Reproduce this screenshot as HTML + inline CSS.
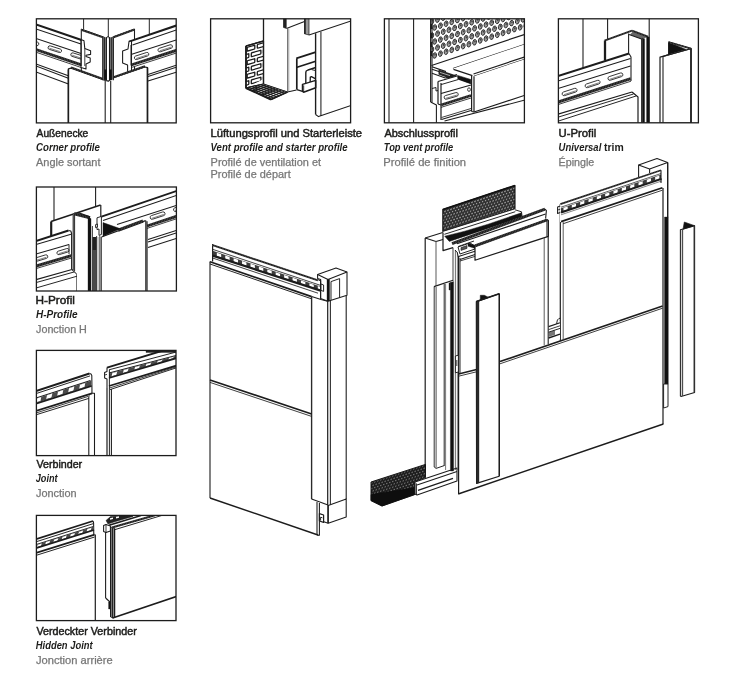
<!DOCTYPE html>
<html><head><meta charset="utf-8"><title>Profile</title>
<style>
html,body{margin:0;padding:0;background:#fff;}
body{width:750px;height:680px;overflow:hidden;font-family:"Liberation Sans",sans-serif;}
svg{display:block;will-change:transform;}
text{font-family:"Liberation Sans",sans-serif;}
</style></head><body>
<svg width="750" height="680" viewBox="0 0 750 680" stroke-linecap="butt">
<rect width="750" height="680" fill="#fff"/>
<clipPath id="c1"><rect x="36.4" y="18.8" width="139.79999999999998" height="104.10000000000001"/></clipPath><g clip-path="url(#c1)">
<line x1="83.6" y1="18" x2="83.6" y2="29.5" stroke="#1c1c1c" stroke-width="0.96" />
<line x1="108.3" y1="18" x2="108.3" y2="37" stroke="#1c1c1c" stroke-width="0.96" />
<line x1="149.3" y1="18" x2="149.3" y2="35" stroke="#1c1c1c" stroke-width="0.96" />
<line x1="36" y1="64" x2="69" y2="76" stroke="#1c1c1c" stroke-width="1.08" />
<line x1="36" y1="66" x2="69" y2="78.5" stroke="#1c1c1c" stroke-width="1.08" />
<line x1="36" y1="72" x2="68.5" y2="84" stroke="#1c1c1c" stroke-width="1.08" />
<line x1="148" y1="74.5" x2="177" y2="65" stroke="#1c1c1c" stroke-width="1.08" />
<line x1="148" y1="76.5" x2="177" y2="67" stroke="#1c1c1c" stroke-width="1.08" />
<line x1="148" y1="81" x2="177" y2="72" stroke="#1c1c1c" stroke-width="1.08" />
<polygon points="81.3,29.3 104,37.3 104,80 81.3,72" fill="#fff" stroke="#1c1c1c" stroke-width="1.08" stroke-linejoin="round" />
<line x1="81.3" y1="29.7" x2="103" y2="37.4" stroke="#1c1c1c" stroke-width="2.04" />
<line x1="81.3" y1="29.7" x2="103" y2="37.4" stroke="#fff" stroke-width="2.04" stroke-dasharray="0.45 1.2" opacity="0.28"/>
<polygon points="112.6,37.3 134.5,29.2 134.5,70 112.6,78" fill="#fff" stroke="#1c1c1c" stroke-width="1.08" stroke-linejoin="round" />
<line x1="113.4" y1="37.3" x2="134.5" y2="29.5" stroke="#1c1c1c" stroke-width="2.04" />
<line x1="113.4" y1="37.3" x2="134.5" y2="29.5" stroke="#fff" stroke-width="2.04" stroke-dasharray="0.45 1.2" opacity="0.28"/>
<polygon points="36,24 81,39.5 82,67.8 36,52" fill="#fff" stroke="none" stroke-width="1.08" stroke-linejoin="round" />
<line x1="36" y1="24.4" x2="81.5" y2="40" stroke="#1c1c1c" stroke-width="2.04" />
<line x1="36" y1="29" x2="81" y2="44" stroke="#1c1c1c" stroke-width="1.08" />
<line x1="36" y1="38.5" x2="81" y2="53.5" stroke="#1c1c1c" stroke-width="1.08" />
<line x1="36" y1="49.6" x2="82" y2="65.2" stroke="#1c1c1c" stroke-width="2.88" />
<line x1="36" y1="49.6" x2="82" y2="65.2" stroke="#fff" stroke-width="2.88" stroke-dasharray="0.45 1.2" opacity="0.28"/>
<line x1="36" y1="52.2" x2="82" y2="67.8" stroke="#1c1c1c" stroke-width="0.84" />
<rect x="47.8" y="47.400000000000006" width="14" height="3.6" rx="1.8" fill="#fff" stroke="#1c1c1c" stroke-width="0.8" transform="rotate(17.5 54.8 49.2)"/>
<line x1="49.3" y1="49.9" x2="60.3" y2="49.9" stroke="#1c1c1c" stroke-width="0.5" transform="rotate(17.5 54.8 49.2)"/>
<rect x="70.6" y="54.1" width="12" height="3.6" rx="1.8" fill="#fff" stroke="#1c1c1c" stroke-width="0.8" transform="rotate(17.5 76.6 55.9)"/>
<line x1="72.1" y1="56.599999999999994" x2="81.1" y2="56.599999999999994" stroke="#1c1c1c" stroke-width="0.5" transform="rotate(17.5 76.6 55.9)"/>
<rect x="27.0" y="40.800000000000004" width="12" height="3.6" rx="1.8" fill="#fff" stroke="#1c1c1c" stroke-width="0.8" transform="rotate(17.5 33 42.6)"/>
<line x1="28.5" y1="43.3" x2="37.5" y2="43.3" stroke="#1c1c1c" stroke-width="0.5" transform="rotate(17.5 33 42.6)"/>
<polygon points="81,39.6 84,40.8 84.8,48.6 90.6,50.8 90.6,54.4 86,55.2 86,56.6 90.2,58 90.2,62 86,64 86,69 81,67.5" fill="#fff" stroke="#1c1c1c" stroke-width="1.08" stroke-linejoin="round" />
<line x1="81.2" y1="40" x2="81.2" y2="66" stroke="#1c1c1c" stroke-width="0.96" />
<line x1="84.8" y1="48.6" x2="84.8" y2="66" stroke="#1c1c1c" stroke-width="0.84" />
<polygon points="129,41.5 177,25.2 177,53 131,67.8" fill="#fff" stroke="none" stroke-width="1.08" stroke-linejoin="round" />
<line x1="129" y1="41.6" x2="177" y2="25.3" stroke="#1c1c1c" stroke-width="2.04" />
<line x1="132.5" y1="45" x2="177" y2="29.8" stroke="#1c1c1c" stroke-width="1.08" />
<line x1="131" y1="54.5" x2="177" y2="39.8" stroke="#1c1c1c" stroke-width="1.08" />
<line x1="131" y1="65" x2="177" y2="50.2" stroke="#1c1c1c" stroke-width="2.88" />
<line x1="131" y1="65" x2="177" y2="50.2" stroke="#fff" stroke-width="2.88" stroke-dasharray="0.45 1.2" opacity="0.28"/>
<line x1="131" y1="67.6" x2="177" y2="52.8" stroke="#1c1c1c" stroke-width="0.84" />
<rect x="134.1" y="54.2" width="15" height="3.6" rx="1.8" fill="#fff" stroke="#1c1c1c" stroke-width="0.8" transform="rotate(-18 141.6 56)"/>
<line x1="135.6" y1="56.699999999999996" x2="147.6" y2="56.699999999999996" stroke="#1c1c1c" stroke-width="0.5" transform="rotate(-18 141.6 56)"/>
<rect x="157.7" y="46.5" width="15" height="3.6" rx="1.8" fill="#fff" stroke="#1c1c1c" stroke-width="0.8" transform="rotate(-18 165.2 48.3)"/>
<line x1="159.2" y1="48.99999999999999" x2="171.2" y2="48.99999999999999" stroke="#1c1c1c" stroke-width="0.5" transform="rotate(-18 165.2 48.3)"/>
<polygon points="131.5,41 129,41.6 128,49 122.6,51 122.6,63 127.6,65 127.6,75 131.5,73.5" fill="#fff" stroke="#1c1c1c" stroke-width="1.08" stroke-linejoin="round" />
<line x1="131" y1="45" x2="131" y2="65.5" stroke="#1c1c1c" stroke-width="0.96" />
<polygon points="68.4,68.8 71,68.2 104,80 108.3,81.2 112.6,78 145,67 147.6,67.6 147.6,124 68.4,124" fill="#fff" stroke="#1c1c1c" stroke-width="1.2" stroke-linejoin="round" />
<line x1="68.4" y1="69.5" x2="68.4" y2="124" stroke="#1c1c1c" stroke-width="1.56" />
<line x1="147.4" y1="68" x2="147.4" y2="124" stroke="#1c1c1c" stroke-width="1.56" />
<line x1="71" y1="67.4" x2="103" y2="79" stroke="#1c1c1c" stroke-width="2.04" />
<line x1="71" y1="67.4" x2="103" y2="79" stroke="#fff" stroke-width="2.04" stroke-dasharray="0.45 1.2" opacity="0.28"/>
<line x1="113.6" y1="77.2" x2="145" y2="66.2" stroke="#1c1c1c" stroke-width="2.04" />
<line x1="113.6" y1="77.2" x2="145" y2="66.2" stroke="#fff" stroke-width="2.04" stroke-dasharray="0.45 1.2" opacity="0.28"/>
<polygon points="102.6,37.6 106.8,37.2 106.8,80.4 102.6,79.6" fill="#8a8a8a" stroke="none" stroke-width="0.0" stroke-linejoin="round" />
<polygon points="109.2,37.2 113.6,37.6 113.6,79.2 109.2,80.6" fill="#8a8a8a" stroke="none" stroke-width="0.0" stroke-linejoin="round" />
<line x1="102.8" y1="37.2" x2="102.8" y2="80.2" stroke="#1c1c1c" stroke-width="1.2" />
<line x1="104.6" y1="37.2" x2="104.6" y2="80.2" stroke="#1c1c1c" stroke-width="0.96" />
<line x1="106.4" y1="37.2" x2="106.4" y2="80.2" stroke="#1c1c1c" stroke-width="1.08" />
<line x1="109.5" y1="37.2" x2="109.5" y2="80.2" stroke="#1c1c1c" stroke-width="1.08" />
<line x1="111.3" y1="37.2" x2="111.3" y2="80.2" stroke="#1c1c1c" stroke-width="0.96" />
<line x1="113.3" y1="37.2" x2="113.3" y2="80.2" stroke="#1c1c1c" stroke-width="1.2" />
<polygon points="104.1,69.6 106.7,69.6 106.7,80.2 104.1,79.6" fill="#111" stroke="none" stroke-width="0.0" stroke-linejoin="round" />
<polygon points="109.2,69.6 111.7,69.6 111.7,79.8 109.2,80.4" fill="#111" stroke="none" stroke-width="0.0" stroke-linejoin="round" />
<polyline points="106.4,39.5 106.8,37.2 108,36.6 109.2,37.2 109.5,39.5" fill="none" stroke="#1c1c1c" stroke-width="0.96" stroke-linejoin="round" />
<line x1="105.2" y1="81" x2="105.2" y2="124" stroke="#1c1c1c" stroke-width="1.08" />
<line x1="110.7" y1="81" x2="110.7" y2="124" stroke="#1c1c1c" stroke-width="1.08" />
</g>
<rect x="36.4" y="18.8" width="139.79999999999998" height="104.10000000000001" fill="none" stroke="#1c1c1c" stroke-width="1.3"/>
<clipPath id="c2"><rect x="210.6" y="18.8" width="140.00000000000003" height="104.0"/></clipPath><g clip-path="url(#c2)">
<clipPath id="br2"><polygon points="245.6,46 263.5,40.8 263.5,84 246,88.4 245.6,88"/></clipPath>
<polygon points="246,46 263.5,41 263.5,84 246,88" fill="#fff" stroke="#1c1c1c" stroke-width="1.2" stroke-linejoin="round" />
<g clip-path="url(#br2)" transform="translate(246 0) skewY(-16) translate(-246 0)">
<rect x="247.2" y="47.7" width="7.600000000000023" height="3.8" rx="0.6" fill="#fff" stroke="#1c1c1c" stroke-width="1.3"/>
<rect x="257.3" y="47.7" width="8.699999999999989" height="3.8" rx="0.6" fill="#fff" stroke="#1c1c1c" stroke-width="1.3"/>
<rect x="243" y="54.45" width="5.800000000000011" height="3.8" rx="0.6" fill="#fff" stroke="#1c1c1c" stroke-width="1.3"/>
<rect x="251.3" y="54.45" width="9.599999999999966" height="3.8" rx="0.6" fill="#fff" stroke="#1c1c1c" stroke-width="1.3"/>
<rect x="263.4" y="54.45" width="4.600000000000023" height="3.8" rx="0.6" fill="#fff" stroke="#1c1c1c" stroke-width="1.3"/>
<rect x="247.2" y="61.2" width="7.600000000000023" height="3.8" rx="0.6" fill="#fff" stroke="#1c1c1c" stroke-width="1.3"/>
<rect x="257.3" y="61.2" width="8.699999999999989" height="3.8" rx="0.6" fill="#fff" stroke="#1c1c1c" stroke-width="1.3"/>
<rect x="243" y="67.94999999999999" width="5.800000000000011" height="3.8" rx="0.6" fill="#fff" stroke="#1c1c1c" stroke-width="1.3"/>
<rect x="251.3" y="67.94999999999999" width="9.599999999999966" height="3.8" rx="0.6" fill="#fff" stroke="#1c1c1c" stroke-width="1.3"/>
<rect x="263.4" y="67.94999999999999" width="4.600000000000023" height="3.8" rx="0.6" fill="#fff" stroke="#1c1c1c" stroke-width="1.3"/>
<rect x="247.2" y="74.69999999999999" width="7.600000000000023" height="3.8" rx="0.6" fill="#fff" stroke="#1c1c1c" stroke-width="1.3"/>
<rect x="257.3" y="74.69999999999999" width="8.699999999999989" height="3.8" rx="0.6" fill="#fff" stroke="#1c1c1c" stroke-width="1.3"/>
<rect x="243" y="81.44999999999999" width="5.800000000000011" height="3.8" rx="0.6" fill="#fff" stroke="#1c1c1c" stroke-width="1.3"/>
<rect x="251.3" y="81.44999999999999" width="9.599999999999966" height="3.8" rx="0.6" fill="#fff" stroke="#1c1c1c" stroke-width="1.3"/>
<rect x="263.4" y="81.44999999999999" width="4.600000000000023" height="3.8" rx="0.6" fill="#fff" stroke="#1c1c1c" stroke-width="1.3"/>
<rect x="247.2" y="88.19999999999999" width="7.600000000000023" height="3.8" rx="0.6" fill="#fff" stroke="#1c1c1c" stroke-width="1.3"/>
<rect x="257.3" y="88.19999999999999" width="8.699999999999989" height="3.8" rx="0.6" fill="#fff" stroke="#1c1c1c" stroke-width="1.3"/>
</g>
<line x1="246" y1="46" x2="263.5" y2="41" stroke="#1c1c1c" stroke-width="1.44" />
<line x1="246" y1="46" x2="246" y2="88" stroke="#1c1c1c" stroke-width="1.8" />
<polygon points="246,88 271,99.5 287.5,92 263.5,84" fill="#fff" stroke="#1c1c1c" stroke-width="1.2" stroke-linejoin="round" />
<line x1="248.975" y1="87.32" x2="273.805" y2="98.225" stroke="#1c1c1c" stroke-width="1.2" />
<line x1="251.95" y1="86.64" x2="276.61" y2="96.95" stroke="#1c1c1c" stroke-width="1.2" />
<line x1="254.75" y1="86.0" x2="279.25" y2="95.75" stroke="#1c1c1c" stroke-width="1.2" />
<line x1="257.725" y1="85.32" x2="282.055" y2="94.475" stroke="#1c1c1c" stroke-width="1.2" />
<line x1="260.7" y1="84.64" x2="284.86" y2="93.2" stroke="#1c1c1c" stroke-width="1.2" />
<line x1="249.0" y1="89.38" x2="266.38" y2="84.96" stroke="#1c1c1c" stroke-width="1.08" />
<line x1="252.25" y1="90.875" x2="269.5" y2="86.0" stroke="#1c1c1c" stroke-width="1.08" />
<line x1="255.25" y1="92.255" x2="272.38" y2="86.96" stroke="#1c1c1c" stroke-width="1.08" />
<line x1="258.5" y1="93.75" x2="275.5" y2="88.0" stroke="#1c1c1c" stroke-width="1.08" />
<line x1="261.5" y1="95.13" x2="278.38" y2="88.96" stroke="#1c1c1c" stroke-width="1.08" />
<line x1="264.75" y1="96.625" x2="281.5" y2="90.0" stroke="#1c1c1c" stroke-width="1.08" />
<line x1="268.0" y1="98.12" x2="284.62" y2="91.04" stroke="#1c1c1c" stroke-width="1.08" />
<line x1="246" y1="88" x2="271" y2="99.5" stroke="#1c1c1c" stroke-width="2.16" />
<line x1="271" y1="99.5" x2="287.5" y2="92" stroke="#1c1c1c" stroke-width="1.44" />
<line x1="263.5" y1="18" x2="263.5" y2="84" stroke="#1c1c1c" stroke-width="1.32" />
<line x1="287.6" y1="28.5" x2="287.6" y2="91.8" stroke="#777" stroke-width="1.2" />
<line x1="288.8" y1="28.5" x2="288.8" y2="91.3" stroke="#999" stroke-width="0.84" />
<polygon points="283.5,18 286.2,18 286.2,28.3 283.5,27.4" fill="#222" stroke="#1c1c1c" stroke-width="0.72" stroke-linejoin="round" />
<line x1="286.4" y1="28.4" x2="304.5" y2="21.5" stroke="#1c1c1c" stroke-width="1.08" />
<polygon points="304.5,18 309,18 309,35 304.5,33.8" fill="#999" stroke="#1c1c1c" stroke-width="0.72" stroke-linejoin="round" />
<line x1="305" y1="18" x2="305" y2="34" stroke="#1c1c1c" stroke-width="1.44" />
<line x1="309" y1="35" x2="351" y2="21" stroke="#1c1c1c" stroke-width="1.08" />
<line x1="287.5" y1="92" x2="296.5" y2="90" stroke="#1c1c1c" stroke-width="1.08" />
<line x1="280" y1="96" x2="296.5" y2="90" stroke="#1c1c1c" stroke-width="0.0" />
<line x1="296.8" y1="58.4" x2="296.8" y2="89.6" stroke="#1c1c1c" stroke-width="1.68" />
<line x1="296.3" y1="58.4" x2="315.7" y2="52.1" stroke="#1c1c1c" stroke-width="1.68" />
<line x1="296.3" y1="67.5" x2="315.7" y2="61.2" stroke="#1c1c1c" stroke-width="1.68" />
<polyline points="315.7,67.5 308,70 306.2,71 305.8,72.6 305.8,83.4" fill="none" stroke="#1c1c1c" stroke-width="1.38" stroke-linejoin="round" />
<polyline points="315.7,70.6 311.6,69.6" fill="none" stroke="#1c1c1c" stroke-width="0.96" stroke-linejoin="round" />
<polyline points="315.7,78.9 311.4,76.6 310.3,77 310.2,82" fill="none" stroke="#1c1c1c" stroke-width="1.32" stroke-linejoin="round" />
<polygon points="302.5,84.4 315.7,80.4 315.7,87.7 303.6,92.2 302.5,91.4" fill="#fff" stroke="#1c1c1c" stroke-width="1.5" stroke-linejoin="round" />
<line x1="303.7" y1="85.4" x2="303.7" y2="91.6" stroke="#1c1c1c" stroke-width="0.84" />
<polyline points="296.8,89.6 302.5,91.4" fill="none" stroke="#1c1c1c" stroke-width="1.2" stroke-linejoin="round" />
<line x1="290" y1="92.9" x2="296.5" y2="90" stroke="#1c1c1c" stroke-width="0.0" />
<line x1="315.6" y1="33.3" x2="315.6" y2="114.5" stroke="#1c1c1c" stroke-width="1.38" />
<line x1="320.9" y1="31.5" x2="320.9" y2="116" stroke="#4a4a4a" stroke-width="1.32" />
<polyline points="315.6,114.5 318.5,116.6 351,105.4" fill="none" stroke="#1c1c1c" stroke-width="1.08" stroke-linejoin="round" />
<line x1="315.5" y1="114.5" x2="320.5" y2="116" stroke="#1c1c1c" stroke-width="0.0" />
</g>
<rect x="210.6" y="18.8" width="140.00000000000003" height="104.0" fill="none" stroke="#1c1c1c" stroke-width="1.3"/>
<clipPath id="c3"><rect x="384.4" y="18.8" width="140.0" height="104.0"/></clipPath><g clip-path="url(#c3)">
<line x1="389" y1="18" x2="389" y2="123" stroke="#1c1c1c" stroke-width="1.08" />
<line x1="413.6" y1="18" x2="413.6" y2="123" stroke="#1c1c1c" stroke-width="1.08" />
<clipPath id="perf3"><rect x="431.5" y="18" width="94" height="60"/></clipPath><g clip-path="url(#perf3)">
<g transform="rotate(14 429.00 57.38)"><ellipse cx="429.00" cy="57.38" rx="1.85" ry="2.85" fill="#9a9a9a" stroke="#1c1c1c" stroke-width="0.8"/><ellipse cx="429.10" cy="56.48" rx="0.75" ry="1.1" fill="#444"/></g>
<g transform="rotate(14 434.70 55.50)"><ellipse cx="434.70" cy="55.50" rx="1.85" ry="2.85" fill="#9a9a9a" stroke="#1c1c1c" stroke-width="0.8"/><ellipse cx="434.80" cy="54.60" rx="0.75" ry="1.1" fill="#444"/></g>
<g transform="rotate(14 440.40 53.62)"><ellipse cx="440.40" cy="53.62" rx="1.85" ry="2.85" fill="#9a9a9a" stroke="#1c1c1c" stroke-width="0.8"/><ellipse cx="440.50" cy="52.72" rx="0.75" ry="1.1" fill="#444"/></g>
<g transform="rotate(14 446.10 51.74)"><ellipse cx="446.10" cy="51.74" rx="1.85" ry="2.85" fill="#9a9a9a" stroke="#1c1c1c" stroke-width="0.8"/><ellipse cx="446.20" cy="50.84" rx="0.75" ry="1.1" fill="#444"/></g>
<g transform="rotate(14 451.80 49.86)"><ellipse cx="451.80" cy="49.86" rx="1.85" ry="2.85" fill="#9a9a9a" stroke="#1c1c1c" stroke-width="0.8"/><ellipse cx="451.90" cy="48.96" rx="0.75" ry="1.1" fill="#444"/></g>
<g transform="rotate(14 457.50 47.98)"><ellipse cx="457.50" cy="47.98" rx="1.85" ry="2.85" fill="#9a9a9a" stroke="#1c1c1c" stroke-width="0.8"/><ellipse cx="457.60" cy="47.08" rx="0.75" ry="1.1" fill="#444"/></g>
<g transform="rotate(14 463.20 46.10)"><ellipse cx="463.20" cy="46.10" rx="1.85" ry="2.85" fill="#9a9a9a" stroke="#1c1c1c" stroke-width="0.8"/><ellipse cx="463.30" cy="45.20" rx="0.75" ry="1.1" fill="#444"/></g>
<g transform="rotate(14 468.90 44.22)"><ellipse cx="468.90" cy="44.22" rx="1.85" ry="2.85" fill="#9a9a9a" stroke="#1c1c1c" stroke-width="0.8"/><ellipse cx="469.00" cy="43.32" rx="0.75" ry="1.1" fill="#444"/></g>
<g transform="rotate(14 474.60 42.34)"><ellipse cx="474.60" cy="42.34" rx="1.85" ry="2.85" fill="#9a9a9a" stroke="#1c1c1c" stroke-width="0.8"/><ellipse cx="474.70" cy="41.44" rx="0.75" ry="1.1" fill="#444"/></g>
<g transform="rotate(14 480.30 40.46)"><ellipse cx="480.30" cy="40.46" rx="1.85" ry="2.85" fill="#9a9a9a" stroke="#1c1c1c" stroke-width="0.8"/><ellipse cx="480.40" cy="39.56" rx="0.75" ry="1.1" fill="#444"/></g>
<g transform="rotate(14 486.00 38.58)"><ellipse cx="486.00" cy="38.58" rx="1.85" ry="2.85" fill="#9a9a9a" stroke="#1c1c1c" stroke-width="0.8"/><ellipse cx="486.10" cy="37.68" rx="0.75" ry="1.1" fill="#444"/></g>
<g transform="rotate(14 491.70 36.70)"><ellipse cx="491.70" cy="36.70" rx="1.85" ry="2.85" fill="#9a9a9a" stroke="#1c1c1c" stroke-width="0.8"/><ellipse cx="491.80" cy="35.80" rx="0.75" ry="1.1" fill="#444"/></g>
<g transform="rotate(14 497.40 34.82)"><ellipse cx="497.40" cy="34.82" rx="1.85" ry="2.85" fill="#9a9a9a" stroke="#1c1c1c" stroke-width="0.8"/><ellipse cx="497.50" cy="33.92" rx="0.75" ry="1.1" fill="#444"/></g>
<g transform="rotate(14 503.10 32.94)"><ellipse cx="503.10" cy="32.94" rx="1.85" ry="2.85" fill="#9a9a9a" stroke="#1c1c1c" stroke-width="0.8"/><ellipse cx="503.20" cy="32.04" rx="0.75" ry="1.1" fill="#444"/></g>
<g transform="rotate(14 508.80 31.06)"><ellipse cx="508.80" cy="31.06" rx="1.85" ry="2.85" fill="#9a9a9a" stroke="#1c1c1c" stroke-width="0.8"/><ellipse cx="508.90" cy="30.16" rx="0.75" ry="1.1" fill="#444"/></g>
<g transform="rotate(14 514.50 29.18)"><ellipse cx="514.50" cy="29.18" rx="1.85" ry="2.85" fill="#9a9a9a" stroke="#1c1c1c" stroke-width="0.8"/><ellipse cx="514.60" cy="28.28" rx="0.75" ry="1.1" fill="#444"/></g>
<g transform="rotate(14 520.20 27.30)"><ellipse cx="520.20" cy="27.30" rx="1.85" ry="2.85" fill="#9a9a9a" stroke="#1c1c1c" stroke-width="0.8"/><ellipse cx="520.30" cy="26.40" rx="0.75" ry="1.1" fill="#444"/></g>
<g transform="rotate(14 525.90 25.42)"><ellipse cx="525.90" cy="25.42" rx="1.85" ry="2.85" fill="#9a9a9a" stroke="#1c1c1c" stroke-width="0.8"/><ellipse cx="526.00" cy="24.52" rx="0.75" ry="1.1" fill="#444"/></g>
<g transform="rotate(14 431.85 49.45)"><ellipse cx="431.85" cy="49.45" rx="1.85" ry="2.85" fill="#9a9a9a" stroke="#1c1c1c" stroke-width="0.8"/><ellipse cx="431.95" cy="48.55" rx="0.75" ry="1.1" fill="#444"/></g>
<g transform="rotate(14 437.55 47.57)"><ellipse cx="437.55" cy="47.57" rx="1.85" ry="2.85" fill="#9a9a9a" stroke="#1c1c1c" stroke-width="0.8"/><ellipse cx="437.65" cy="46.67" rx="0.75" ry="1.1" fill="#444"/></g>
<g transform="rotate(14 443.25 45.69)"><ellipse cx="443.25" cy="45.69" rx="1.85" ry="2.85" fill="#9a9a9a" stroke="#1c1c1c" stroke-width="0.8"/><ellipse cx="443.35" cy="44.79" rx="0.75" ry="1.1" fill="#444"/></g>
<g transform="rotate(14 448.95 43.81)"><ellipse cx="448.95" cy="43.81" rx="1.85" ry="2.85" fill="#9a9a9a" stroke="#1c1c1c" stroke-width="0.8"/><ellipse cx="449.05" cy="42.91" rx="0.75" ry="1.1" fill="#444"/></g>
<g transform="rotate(14 454.65 41.93)"><ellipse cx="454.65" cy="41.93" rx="1.85" ry="2.85" fill="#9a9a9a" stroke="#1c1c1c" stroke-width="0.8"/><ellipse cx="454.75" cy="41.03" rx="0.75" ry="1.1" fill="#444"/></g>
<g transform="rotate(14 460.35 40.05)"><ellipse cx="460.35" cy="40.05" rx="1.85" ry="2.85" fill="#9a9a9a" stroke="#1c1c1c" stroke-width="0.8"/><ellipse cx="460.45" cy="39.15" rx="0.75" ry="1.1" fill="#444"/></g>
<g transform="rotate(14 466.05 38.17)"><ellipse cx="466.05" cy="38.17" rx="1.85" ry="2.85" fill="#9a9a9a" stroke="#1c1c1c" stroke-width="0.8"/><ellipse cx="466.15" cy="37.27" rx="0.75" ry="1.1" fill="#444"/></g>
<g transform="rotate(14 471.75 36.29)"><ellipse cx="471.75" cy="36.29" rx="1.85" ry="2.85" fill="#9a9a9a" stroke="#1c1c1c" stroke-width="0.8"/><ellipse cx="471.85" cy="35.39" rx="0.75" ry="1.1" fill="#444"/></g>
<g transform="rotate(14 477.45 34.41)"><ellipse cx="477.45" cy="34.41" rx="1.85" ry="2.85" fill="#9a9a9a" stroke="#1c1c1c" stroke-width="0.8"/><ellipse cx="477.55" cy="33.51" rx="0.75" ry="1.1" fill="#444"/></g>
<g transform="rotate(14 483.15 32.53)"><ellipse cx="483.15" cy="32.53" rx="1.85" ry="2.85" fill="#9a9a9a" stroke="#1c1c1c" stroke-width="0.8"/><ellipse cx="483.25" cy="31.63" rx="0.75" ry="1.1" fill="#444"/></g>
<g transform="rotate(14 488.85 30.65)"><ellipse cx="488.85" cy="30.65" rx="1.85" ry="2.85" fill="#9a9a9a" stroke="#1c1c1c" stroke-width="0.8"/><ellipse cx="488.95" cy="29.75" rx="0.75" ry="1.1" fill="#444"/></g>
<g transform="rotate(14 494.55 28.77)"><ellipse cx="494.55" cy="28.77" rx="1.85" ry="2.85" fill="#9a9a9a" stroke="#1c1c1c" stroke-width="0.8"/><ellipse cx="494.65" cy="27.87" rx="0.75" ry="1.1" fill="#444"/></g>
<g transform="rotate(14 500.25 26.89)"><ellipse cx="500.25" cy="26.89" rx="1.85" ry="2.85" fill="#9a9a9a" stroke="#1c1c1c" stroke-width="0.8"/><ellipse cx="500.35" cy="25.99" rx="0.75" ry="1.1" fill="#444"/></g>
<g transform="rotate(14 505.95 25.01)"><ellipse cx="505.95" cy="25.01" rx="1.85" ry="2.85" fill="#9a9a9a" stroke="#1c1c1c" stroke-width="0.8"/><ellipse cx="506.05" cy="24.11" rx="0.75" ry="1.1" fill="#444"/></g>
<g transform="rotate(14 511.65 23.13)"><ellipse cx="511.65" cy="23.13" rx="1.85" ry="2.85" fill="#9a9a9a" stroke="#1c1c1c" stroke-width="0.8"/><ellipse cx="511.75" cy="22.23" rx="0.75" ry="1.1" fill="#444"/></g>
<g transform="rotate(14 517.35 21.25)"><ellipse cx="517.35" cy="21.25" rx="1.85" ry="2.85" fill="#9a9a9a" stroke="#1c1c1c" stroke-width="0.8"/><ellipse cx="517.45" cy="20.35" rx="0.75" ry="1.1" fill="#444"/></g>
<g transform="rotate(14 523.05 19.37)"><ellipse cx="523.05" cy="19.37" rx="1.85" ry="2.85" fill="#9a9a9a" stroke="#1c1c1c" stroke-width="0.8"/><ellipse cx="523.15" cy="18.47" rx="0.75" ry="1.1" fill="#444"/></g>
<g transform="rotate(14 528.75 17.49)"><ellipse cx="528.75" cy="17.49" rx="1.85" ry="2.85" fill="#9a9a9a" stroke="#1c1c1c" stroke-width="0.8"/><ellipse cx="528.85" cy="16.59" rx="0.75" ry="1.1" fill="#444"/></g>
<g transform="rotate(14 429.00 43.40)"><ellipse cx="429.00" cy="43.40" rx="1.85" ry="2.85" fill="#9a9a9a" stroke="#1c1c1c" stroke-width="0.8"/><ellipse cx="429.10" cy="42.50" rx="0.75" ry="1.1" fill="#444"/></g>
<g transform="rotate(14 434.70 41.52)"><ellipse cx="434.70" cy="41.52" rx="1.85" ry="2.85" fill="#9a9a9a" stroke="#1c1c1c" stroke-width="0.8"/><ellipse cx="434.80" cy="40.62" rx="0.75" ry="1.1" fill="#444"/></g>
<g transform="rotate(14 440.40 39.64)"><ellipse cx="440.40" cy="39.64" rx="1.85" ry="2.85" fill="#9a9a9a" stroke="#1c1c1c" stroke-width="0.8"/><ellipse cx="440.50" cy="38.74" rx="0.75" ry="1.1" fill="#444"/></g>
<g transform="rotate(14 446.10 37.76)"><ellipse cx="446.10" cy="37.76" rx="1.85" ry="2.85" fill="#9a9a9a" stroke="#1c1c1c" stroke-width="0.8"/><ellipse cx="446.20" cy="36.86" rx="0.75" ry="1.1" fill="#444"/></g>
<g transform="rotate(14 451.80 35.88)"><ellipse cx="451.80" cy="35.88" rx="1.85" ry="2.85" fill="#9a9a9a" stroke="#1c1c1c" stroke-width="0.8"/><ellipse cx="451.90" cy="34.98" rx="0.75" ry="1.1" fill="#444"/></g>
<g transform="rotate(14 457.50 34.00)"><ellipse cx="457.50" cy="34.00" rx="1.85" ry="2.85" fill="#9a9a9a" stroke="#1c1c1c" stroke-width="0.8"/><ellipse cx="457.60" cy="33.10" rx="0.75" ry="1.1" fill="#444"/></g>
<g transform="rotate(14 463.20 32.12)"><ellipse cx="463.20" cy="32.12" rx="1.85" ry="2.85" fill="#9a9a9a" stroke="#1c1c1c" stroke-width="0.8"/><ellipse cx="463.30" cy="31.22" rx="0.75" ry="1.1" fill="#444"/></g>
<g transform="rotate(14 468.90 30.24)"><ellipse cx="468.90" cy="30.24" rx="1.85" ry="2.85" fill="#9a9a9a" stroke="#1c1c1c" stroke-width="0.8"/><ellipse cx="469.00" cy="29.34" rx="0.75" ry="1.1" fill="#444"/></g>
<g transform="rotate(14 474.60 28.36)"><ellipse cx="474.60" cy="28.36" rx="1.85" ry="2.85" fill="#9a9a9a" stroke="#1c1c1c" stroke-width="0.8"/><ellipse cx="474.70" cy="27.46" rx="0.75" ry="1.1" fill="#444"/></g>
<g transform="rotate(14 480.30 26.48)"><ellipse cx="480.30" cy="26.48" rx="1.85" ry="2.85" fill="#9a9a9a" stroke="#1c1c1c" stroke-width="0.8"/><ellipse cx="480.40" cy="25.58" rx="0.75" ry="1.1" fill="#444"/></g>
<g transform="rotate(14 486.00 24.60)"><ellipse cx="486.00" cy="24.60" rx="1.85" ry="2.85" fill="#9a9a9a" stroke="#1c1c1c" stroke-width="0.8"/><ellipse cx="486.10" cy="23.70" rx="0.75" ry="1.1" fill="#444"/></g>
<g transform="rotate(14 491.70 22.72)"><ellipse cx="491.70" cy="22.72" rx="1.85" ry="2.85" fill="#9a9a9a" stroke="#1c1c1c" stroke-width="0.8"/><ellipse cx="491.80" cy="21.82" rx="0.75" ry="1.1" fill="#444"/></g>
<g transform="rotate(14 497.40 20.84)"><ellipse cx="497.40" cy="20.84" rx="1.85" ry="2.85" fill="#9a9a9a" stroke="#1c1c1c" stroke-width="0.8"/><ellipse cx="497.50" cy="19.94" rx="0.75" ry="1.1" fill="#444"/></g>
<g transform="rotate(14 503.10 18.96)"><ellipse cx="503.10" cy="18.96" rx="1.85" ry="2.85" fill="#9a9a9a" stroke="#1c1c1c" stroke-width="0.8"/><ellipse cx="503.20" cy="18.06" rx="0.75" ry="1.1" fill="#444"/></g>
<g transform="rotate(14 508.80 17.08)"><ellipse cx="508.80" cy="17.08" rx="1.85" ry="2.85" fill="#9a9a9a" stroke="#1c1c1c" stroke-width="0.8"/><ellipse cx="508.90" cy="16.18" rx="0.75" ry="1.1" fill="#444"/></g>
<g transform="rotate(14 514.50 15.20)"><ellipse cx="514.50" cy="15.20" rx="1.85" ry="2.85" fill="#9a9a9a" stroke="#1c1c1c" stroke-width="0.8"/><ellipse cx="514.60" cy="14.30" rx="0.75" ry="1.1" fill="#444"/></g>
<g transform="rotate(14 520.20 13.32)"><ellipse cx="520.20" cy="13.32" rx="1.85" ry="2.85" fill="#9a9a9a" stroke="#1c1c1c" stroke-width="0.8"/><ellipse cx="520.30" cy="12.42" rx="0.75" ry="1.1" fill="#444"/></g>
<g transform="rotate(14 431.85 35.47)"><ellipse cx="431.85" cy="35.47" rx="1.85" ry="2.85" fill="#9a9a9a" stroke="#1c1c1c" stroke-width="0.8"/><ellipse cx="431.95" cy="34.57" rx="0.75" ry="1.1" fill="#444"/></g>
<g transform="rotate(14 437.55 33.59)"><ellipse cx="437.55" cy="33.59" rx="1.85" ry="2.85" fill="#9a9a9a" stroke="#1c1c1c" stroke-width="0.8"/><ellipse cx="437.65" cy="32.69" rx="0.75" ry="1.1" fill="#444"/></g>
<g transform="rotate(14 443.25 31.71)"><ellipse cx="443.25" cy="31.71" rx="1.85" ry="2.85" fill="#9a9a9a" stroke="#1c1c1c" stroke-width="0.8"/><ellipse cx="443.35" cy="30.81" rx="0.75" ry="1.1" fill="#444"/></g>
<g transform="rotate(14 448.95 29.83)"><ellipse cx="448.95" cy="29.83" rx="1.85" ry="2.85" fill="#9a9a9a" stroke="#1c1c1c" stroke-width="0.8"/><ellipse cx="449.05" cy="28.93" rx="0.75" ry="1.1" fill="#444"/></g>
<g transform="rotate(14 454.65 27.95)"><ellipse cx="454.65" cy="27.95" rx="1.85" ry="2.85" fill="#9a9a9a" stroke="#1c1c1c" stroke-width="0.8"/><ellipse cx="454.75" cy="27.05" rx="0.75" ry="1.1" fill="#444"/></g>
<g transform="rotate(14 460.35 26.07)"><ellipse cx="460.35" cy="26.07" rx="1.85" ry="2.85" fill="#9a9a9a" stroke="#1c1c1c" stroke-width="0.8"/><ellipse cx="460.45" cy="25.17" rx="0.75" ry="1.1" fill="#444"/></g>
<g transform="rotate(14 466.05 24.19)"><ellipse cx="466.05" cy="24.19" rx="1.85" ry="2.85" fill="#9a9a9a" stroke="#1c1c1c" stroke-width="0.8"/><ellipse cx="466.15" cy="23.29" rx="0.75" ry="1.1" fill="#444"/></g>
<g transform="rotate(14 471.75 22.31)"><ellipse cx="471.75" cy="22.31" rx="1.85" ry="2.85" fill="#9a9a9a" stroke="#1c1c1c" stroke-width="0.8"/><ellipse cx="471.85" cy="21.41" rx="0.75" ry="1.1" fill="#444"/></g>
<g transform="rotate(14 477.45 20.43)"><ellipse cx="477.45" cy="20.43" rx="1.85" ry="2.85" fill="#9a9a9a" stroke="#1c1c1c" stroke-width="0.8"/><ellipse cx="477.55" cy="19.53" rx="0.75" ry="1.1" fill="#444"/></g>
<g transform="rotate(14 483.15 18.55)"><ellipse cx="483.15" cy="18.55" rx="1.85" ry="2.85" fill="#9a9a9a" stroke="#1c1c1c" stroke-width="0.8"/><ellipse cx="483.25" cy="17.65" rx="0.75" ry="1.1" fill="#444"/></g>
<g transform="rotate(14 488.85 16.67)"><ellipse cx="488.85" cy="16.67" rx="1.85" ry="2.85" fill="#9a9a9a" stroke="#1c1c1c" stroke-width="0.8"/><ellipse cx="488.95" cy="15.77" rx="0.75" ry="1.1" fill="#444"/></g>
<g transform="rotate(14 494.55 14.79)"><ellipse cx="494.55" cy="14.79" rx="1.85" ry="2.85" fill="#9a9a9a" stroke="#1c1c1c" stroke-width="0.8"/><ellipse cx="494.65" cy="13.89" rx="0.75" ry="1.1" fill="#444"/></g>
<g transform="rotate(14 429.00 29.42)"><ellipse cx="429.00" cy="29.42" rx="1.85" ry="2.85" fill="#9a9a9a" stroke="#1c1c1c" stroke-width="0.8"/><ellipse cx="429.10" cy="28.52" rx="0.75" ry="1.1" fill="#444"/></g>
<g transform="rotate(14 434.70 27.54)"><ellipse cx="434.70" cy="27.54" rx="1.85" ry="2.85" fill="#9a9a9a" stroke="#1c1c1c" stroke-width="0.8"/><ellipse cx="434.80" cy="26.64" rx="0.75" ry="1.1" fill="#444"/></g>
<g transform="rotate(14 440.40 25.66)"><ellipse cx="440.40" cy="25.66" rx="1.85" ry="2.85" fill="#9a9a9a" stroke="#1c1c1c" stroke-width="0.8"/><ellipse cx="440.50" cy="24.76" rx="0.75" ry="1.1" fill="#444"/></g>
<g transform="rotate(14 446.10 23.78)"><ellipse cx="446.10" cy="23.78" rx="1.85" ry="2.85" fill="#9a9a9a" stroke="#1c1c1c" stroke-width="0.8"/><ellipse cx="446.20" cy="22.88" rx="0.75" ry="1.1" fill="#444"/></g>
<g transform="rotate(14 451.80 21.90)"><ellipse cx="451.80" cy="21.90" rx="1.85" ry="2.85" fill="#9a9a9a" stroke="#1c1c1c" stroke-width="0.8"/><ellipse cx="451.90" cy="21.00" rx="0.75" ry="1.1" fill="#444"/></g>
<g transform="rotate(14 457.50 20.02)"><ellipse cx="457.50" cy="20.02" rx="1.85" ry="2.85" fill="#9a9a9a" stroke="#1c1c1c" stroke-width="0.8"/><ellipse cx="457.60" cy="19.12" rx="0.75" ry="1.1" fill="#444"/></g>
<g transform="rotate(14 463.20 18.14)"><ellipse cx="463.20" cy="18.14" rx="1.85" ry="2.85" fill="#9a9a9a" stroke="#1c1c1c" stroke-width="0.8"/><ellipse cx="463.30" cy="17.24" rx="0.75" ry="1.1" fill="#444"/></g>
<g transform="rotate(14 468.90 16.26)"><ellipse cx="468.90" cy="16.26" rx="1.85" ry="2.85" fill="#9a9a9a" stroke="#1c1c1c" stroke-width="0.8"/><ellipse cx="469.00" cy="15.36" rx="0.75" ry="1.1" fill="#444"/></g>
<g transform="rotate(14 474.60 14.38)"><ellipse cx="474.60" cy="14.38" rx="1.85" ry="2.85" fill="#9a9a9a" stroke="#1c1c1c" stroke-width="0.8"/><ellipse cx="474.70" cy="13.48" rx="0.75" ry="1.1" fill="#444"/></g>
<g transform="rotate(14 431.85 21.49)"><ellipse cx="431.85" cy="21.49" rx="1.85" ry="2.85" fill="#9a9a9a" stroke="#1c1c1c" stroke-width="0.8"/><ellipse cx="431.95" cy="20.59" rx="0.75" ry="1.1" fill="#444"/></g>
<g transform="rotate(14 437.55 19.61)"><ellipse cx="437.55" cy="19.61" rx="1.85" ry="2.85" fill="#9a9a9a" stroke="#1c1c1c" stroke-width="0.8"/><ellipse cx="437.65" cy="18.71" rx="0.75" ry="1.1" fill="#444"/></g>
<g transform="rotate(14 443.25 17.73)"><ellipse cx="443.25" cy="17.73" rx="1.85" ry="2.85" fill="#9a9a9a" stroke="#1c1c1c" stroke-width="0.8"/><ellipse cx="443.35" cy="16.83" rx="0.75" ry="1.1" fill="#444"/></g>
<g transform="rotate(14 448.95 15.85)"><ellipse cx="448.95" cy="15.85" rx="1.85" ry="2.85" fill="#9a9a9a" stroke="#1c1c1c" stroke-width="0.8"/><ellipse cx="449.05" cy="14.95" rx="0.75" ry="1.1" fill="#444"/></g>
<g transform="rotate(14 454.65 13.97)"><ellipse cx="454.65" cy="13.97" rx="1.85" ry="2.85" fill="#9a9a9a" stroke="#1c1c1c" stroke-width="0.8"/><ellipse cx="454.75" cy="13.07" rx="0.75" ry="1.1" fill="#444"/></g>
<g transform="rotate(14 434.70 13.56)"><ellipse cx="434.70" cy="13.56" rx="1.85" ry="2.85" fill="#9a9a9a" stroke="#1c1c1c" stroke-width="0.8"/><ellipse cx="434.80" cy="12.66" rx="0.75" ry="1.1" fill="#444"/></g>
</g>
<line x1="430.6" y1="18" x2="430.6" y2="102" stroke="#1c1c1c" stroke-width="1.08" />
<line x1="432" y1="18" x2="432" y2="102.5" stroke="#1c1c1c" stroke-width="1.08" />
<polyline points="430.6,102 436.4,105 436.4,123" fill="none" stroke="#1c1c1c" stroke-width="1.08" stroke-linejoin="round" />
<line x1="431.3" y1="24" x2="431.3" y2="29" stroke="#1c1c1c" stroke-width="2.16" />
<line x1="431.3" y1="33" x2="431.3" y2="38" stroke="#1c1c1c" stroke-width="2.16" />
<line x1="431.3" y1="42" x2="431.3" y2="47" stroke="#1c1c1c" stroke-width="2.16" />
<line x1="431.3" y1="51" x2="431.3" y2="56" stroke="#1c1c1c" stroke-width="2.16" />
<line x1="431.5" y1="65.5" x2="525" y2="34.3" stroke="#1c1c1c" stroke-width="1.2" />
<line x1="453" y1="68.5" x2="525" y2="44.3" stroke="#1c1c1c" stroke-width="1.2" />
<line x1="432" y1="66.7" x2="446" y2="71.6" stroke="#1c1c1c" stroke-width="1.2" />
<line x1="432" y1="69.3" x2="445" y2="73.5" stroke="#1c1c1c" stroke-width="1.08" />
<line x1="432" y1="73.3" x2="445.3" y2="78" stroke="#1c1c1c" stroke-width="1.08" />
<polygon points="438.5,69.6 452.8,74.2 456.6,75.8 449,78.2 438.5,74.6" fill="#262626" stroke="none" stroke-width="0.0" stroke-linejoin="round" />
<line x1="440" y1="72.4" x2="450" y2="75.6" stroke="#ddd" stroke-width="0.72" />
<line x1="445.3" y1="78" x2="457" y2="74.6" stroke="#1c1c1c" stroke-width="1.2" />
<polygon points="453.5,69.3 473.6,75.2 525,58 525,44.3 453.2,68.4" fill="#fff" stroke="none" stroke-width="0.0" stroke-linejoin="round" />
<line x1="453.5" y1="69.3" x2="472.4" y2="75.6" stroke="#1c1c1c" stroke-width="1.32" />
<line x1="473.5" y1="74" x2="525" y2="56.8" stroke="#1c1c1c" stroke-width="1.2" />
<line x1="474" y1="76.2" x2="525" y2="59.2" stroke="#1c1c1c" stroke-width="1.08" />
<polygon points="474,76.2 525,59.2 525,95.2 474,112" fill="#fff" stroke="none" stroke-width="0.0" stroke-linejoin="round" />
<line x1="471.6" y1="76" x2="471.6" y2="111.5" stroke="#1c1c1c" stroke-width="1.2" />
<line x1="474" y1="76.2" x2="474" y2="112" stroke="#1c1c1c" stroke-width="1.2" />
<polyline points="471.6,111.5 474,112 525,95.2" fill="none" stroke="#1c1c1c" stroke-width="1.2" stroke-linejoin="round" />
<polygon points="457.5,75.4 470.8,79.5 470.8,84 457.5,79.5" fill="#111" stroke="#1c1c1c" stroke-width="0.6" stroke-linejoin="round" />
<line x1="457.5" y1="81.5" x2="470.8" y2="85.6" stroke="#1c1c1c" stroke-width="0.96" />
<polygon points="438,81.5 457,76 457.5,79.5 471,84.5 471,110.5 441.5,119.5 441,104 438,104" fill="#fff" stroke="none" stroke-width="0.0" stroke-linejoin="round" />
<line x1="438" y1="81.5" x2="457" y2="76" stroke="#1c1c1c" stroke-width="1.2" />
<line x1="438" y1="81.5" x2="438" y2="104" stroke="#1c1c1c" stroke-width="1.2" />
<line x1="441" y1="83" x2="441" y2="120" stroke="#1c1c1c" stroke-width="1.2" />
<polyline points="438,104 441,105" fill="none" stroke="#1c1c1c" stroke-width="1.08" stroke-linejoin="round" />
<line x1="441" y1="84.6" x2="458" y2="79.6" stroke="#1c1c1c" stroke-width="0.96" />
<line x1="441" y1="93.5" x2="471" y2="85" stroke="#1c1c1c" stroke-width="1.2" />
<rect x="443.95" y="94.0" width="14.5" height="3.8" rx="1.9" fill="#fff" stroke="#1c1c1c" stroke-width="0.8" transform="rotate(-16 451.2 95.9)"/>
<line x1="445.45" y1="96.70000000000002" x2="456.95" y2="96.70000000000002" stroke="#1c1c1c" stroke-width="0.5" transform="rotate(-16 451.2 95.9)"/>
<line x1="441" y1="105" x2="471" y2="95.5" stroke="#1c1c1c" stroke-width="2.736" />
<line x1="441" y1="105" x2="471" y2="95.5" stroke="#fff" stroke-width="2.736" stroke-dasharray="0.45 1.2" opacity="0.28"/>
<line x1="441" y1="107.4" x2="471" y2="98" stroke="#1c1c1c" stroke-width="0.84" />
<line x1="441.5" y1="119.5" x2="471" y2="110.5" stroke="#1c1c1c" stroke-width="1.2" />
<line x1="441.5" y1="117.5" x2="471" y2="108.5" stroke="#1c1c1c" stroke-width="0.84" />
<ellipse cx="469" cy="89.6" rx="1.4" ry="1.8" fill="#fff" stroke="#1c1c1c" stroke-width="0.8"/>
<polyline points="432,88.5 436,87.5 436,91 438,90.5" fill="none" stroke="#1c1c1c" stroke-width="0.96" stroke-linejoin="round" />
<line x1="444.5" y1="121" x2="525" y2="100" stroke="#1c1c1c" stroke-width="1.08" />
</g>
<rect x="384.4" y="18.8" width="140.0" height="104.0" fill="none" stroke="#1c1c1c" stroke-width="1.3"/>
<clipPath id="c4"><rect x="558.4" y="18.8" width="140.0" height="104.0"/></clipPath><g clip-path="url(#c4)">
<line x1="583" y1="18" x2="583" y2="69" stroke="#1c1c1c" stroke-width="1.08" />
<line x1="607.6" y1="18" x2="607.6" y2="39.6" stroke="#1c1c1c" stroke-width="1.08" />
<line x1="649.2" y1="18" x2="649.2" y2="123" stroke="#1c1c1c" stroke-width="1.08" />
<polygon points="604.5,40.6 632,30.6 632,60 604.5,60" fill="#fff" stroke="none" stroke-width="0.0" stroke-linejoin="round" />
<line x1="605" y1="40.6" x2="605" y2="60.5" stroke="#1c1c1c" stroke-width="2.28" />
<line x1="604.5" y1="40.6" x2="632" y2="30.6" stroke="#1c1c1c" stroke-width="1.8" />
<line x1="604.5" y1="40.6" x2="632" y2="30.6" stroke="#fff" stroke-width="1.8" stroke-dasharray="0.45 1.2" opacity="0.28"/>
<polygon points="633,31.2 648,36.8 642,39.2 630,34.8" fill="#666" stroke="none" stroke-width="0.0" stroke-linejoin="round" />
<line x1="632" y1="30.6" x2="648" y2="36.6" stroke="#1c1c1c" stroke-width="1.92" />
<line x1="632" y1="30.6" x2="648" y2="36.6" stroke="#fff" stroke-width="1.92" stroke-dasharray="0.45 1.2" opacity="0.28"/>
<line x1="628.6" y1="33.6" x2="628.6" y2="53.6" stroke="#1c1c1c" stroke-width="1.08" />
<line x1="629" y1="34.4" x2="641.6" y2="39" stroke="#1c1c1c" stroke-width="1.08" />
<line x1="641.6" y1="39" x2="641.6" y2="123" stroke="#1c1c1c" stroke-width="0.96" />
<polygon points="642.2,38.2 644.6,38.8 644.6,123 642.2,123" fill="#111" stroke="#1c1c1c" stroke-width="0.36" stroke-linejoin="round" />
<polygon points="646.6,36.4 649.2,37 649.2,123 646.6,123" fill="#111" stroke="#1c1c1c" stroke-width="0.36" stroke-linejoin="round" />
<polygon points="558,76 629,53.5 631,57 631,81 558,104.5" fill="#fff" stroke="none" stroke-width="0.0" stroke-linejoin="round" />
<line x1="558" y1="76.1" x2="629" y2="53.5" stroke="#1c1c1c" stroke-width="1.92" />
<polyline points="629,53.5 631,57 631,81" fill="none" stroke="#1c1c1c" stroke-width="1.08" stroke-linejoin="round" />
<line x1="558" y1="81.1" x2="630.5" y2="58.4" stroke="#1c1c1c" stroke-width="1.08" />
<line x1="558" y1="88.6" x2="630.5" y2="66" stroke="#1c1c1c" stroke-width="1.08" />
<line x1="558" y1="102.1" x2="630.8" y2="78.6" stroke="#1c1c1c" stroke-width="2.88" />
<line x1="558" y1="102.1" x2="630.8" y2="78.6" stroke="#fff" stroke-width="2.88" stroke-dasharray="0.45 1.2" opacity="0.28"/>
<line x1="558" y1="104.6" x2="631" y2="81.2" stroke="#1c1c1c" stroke-width="0.84" />
<rect x="561.85" y="90.1" width="15.5" height="3.8" rx="1.9" fill="#fff" stroke="#1c1c1c" stroke-width="0.8" transform="rotate(-18 569.6 92)"/>
<line x1="563.35" y1="92.80000000000001" x2="575.85" y2="92.80000000000001" stroke="#1c1c1c" stroke-width="0.5" transform="rotate(-18 569.6 92)"/>
<rect x="584.85" y="82.1" width="15.5" height="3.8" rx="1.9" fill="#fff" stroke="#1c1c1c" stroke-width="0.8" transform="rotate(-18 592.6 84)"/>
<line x1="586.35" y1="84.80000000000001" x2="598.85" y2="84.80000000000001" stroke="#1c1c1c" stroke-width="0.5" transform="rotate(-18 592.6 84)"/>
<rect x="607.65" y="74.69999999999999" width="15.5" height="3.8" rx="1.9" fill="#fff" stroke="#1c1c1c" stroke-width="0.8" transform="rotate(-18 615.4 76.6)"/>
<line x1="609.15" y1="77.4" x2="621.65" y2="77.4" stroke="#1c1c1c" stroke-width="0.5" transform="rotate(-18 615.4 76.6)"/>
<line x1="558" y1="114.1" x2="632" y2="92" stroke="#1c1c1c" stroke-width="1.2" />
<polyline points="632,92 638,97 638,123" fill="none" stroke="#1c1c1c" stroke-width="1.2" stroke-linejoin="round" />
<line x1="558" y1="117.2" x2="633.5" y2="94" stroke="#1c1c1c" stroke-width="0.96" />
<line x1="558" y1="121.2" x2="636" y2="96" stroke="#1c1c1c" stroke-width="0.96" />
<line x1="558" y1="108" x2="631" y2="85" stroke="#1c1c1c" stroke-width="0.0" />
<polygon points="660,57.2 691,48.6 691,123 660,123" fill="#fff" stroke="#1c1c1c" stroke-width="1.2" stroke-linejoin="round" />
<line x1="663" y1="56.4" x2="663" y2="123" stroke="#1c1c1c" stroke-width="1.08" />
<line x1="691" y1="48.6" x2="691" y2="123" stroke="#1c1c1c" stroke-width="1.56" />
<polygon points="668.6,42 691,48.6 663,56.4 668.6,54.4" fill="#fff" stroke="#1c1c1c" stroke-width="1.08" stroke-linejoin="round" />
<polygon points="668.6,42.6 668.6,54.6 686,49.4 676,45.2" fill="#111" stroke="#1c1c1c" stroke-width="0.6" stroke-linejoin="round" />
<line x1="668.6" y1="42" x2="691" y2="48.6" stroke="#1c1c1c" stroke-width="1.68" />
<line x1="668.6" y1="42" x2="691" y2="48.6" stroke="#fff" stroke-width="1.68" stroke-dasharray="0.45 1.2" opacity="0.28"/>
</g>
<rect x="558.4" y="18.8" width="140.0" height="104.0" fill="none" stroke="#1c1c1c" stroke-width="1.3"/>
<clipPath id="c5"><rect x="36.4" y="187" width="140.0" height="104"/></clipPath><g clip-path="url(#c5)">
<line x1="54" y1="186" x2="54" y2="220" stroke="#1c1c1c" stroke-width="1.08" />
<line x1="95.6" y1="186" x2="95.6" y2="206" stroke="#1c1c1c" stroke-width="1.08" />
<polygon points="101.5,216.5 177,190.8 177,217 147,228 101.5,240" fill="#fff" stroke="none" stroke-width="0.0" stroke-linejoin="round" />
<line x1="101.5" y1="216.6" x2="177" y2="190.8" stroke="#1c1c1c" stroke-width="1.92" />
<line x1="103" y1="220.6" x2="177" y2="195.3" stroke="#1c1c1c" stroke-width="1.08" />
<line x1="117" y1="224.6" x2="177" y2="205.2" stroke="#1c1c1c" stroke-width="1.08" />
<rect x="149.85" y="213.7" width="15.5" height="3.8" rx="1.9" fill="#fff" stroke="#1c1c1c" stroke-width="0.8" transform="rotate(-18 157.6 215.6)"/>
<line x1="151.35" y1="216.4" x2="163.85" y2="216.4" stroke="#1c1c1c" stroke-width="0.5" transform="rotate(-18 157.6 215.6)"/>
<rect x="173.25" y="205.9" width="15.5" height="3.8" rx="1.9" fill="#fff" stroke="#1c1c1c" stroke-width="0.8" transform="rotate(-18 181 207.8)"/>
<line x1="174.75" y1="208.60000000000002" x2="187.25" y2="208.60000000000002" stroke="#1c1c1c" stroke-width="0.5" transform="rotate(-18 181 207.8)"/>
<line x1="147" y1="226" x2="177" y2="216.2" stroke="#1c1c1c" stroke-width="2.88" />
<line x1="147" y1="226" x2="177" y2="216.2" stroke="#fff" stroke-width="2.88" stroke-dasharray="0.45 1.2" opacity="0.28"/>
<line x1="147" y1="228.4" x2="177" y2="218.6" stroke="#1c1c1c" stroke-width="0.84" />
<line x1="148" y1="239.5" x2="177" y2="230.2" stroke="#1c1c1c" stroke-width="1.08" />
<line x1="148" y1="242" x2="177" y2="232.7" stroke="#1c1c1c" stroke-width="1.08" />
<line x1="148" y1="247.5" x2="177" y2="238.2" stroke="#1c1c1c" stroke-width="1.08" />
<polygon points="51,221.6 100.6,205 101,218 101,240 51,240" fill="#fff" stroke="none" stroke-width="0.0" stroke-linejoin="round" />
<line x1="51.2" y1="221.6" x2="51.2" y2="236" stroke="#1c1c1c" stroke-width="2.16" />
<line x1="51" y1="221.6" x2="100.6" y2="205" stroke="#1c1c1c" stroke-width="1.56" />
<line x1="100.8" y1="205" x2="100.8" y2="218" stroke="#1c1c1c" stroke-width="1.2" />
<polygon points="36,241 68.5,230.5 71.5,233.5 71.5,257 36,268" fill="#fff" stroke="none" stroke-width="0.0" stroke-linejoin="round" />
<line x1="36" y1="241.1" x2="68.5" y2="230.5" stroke="#1c1c1c" stroke-width="1.92" />
<polyline points="68.5,230.5 70.8,231 71.6,233.5 71.6,269" fill="none" stroke="#1c1c1c" stroke-width="1.08" stroke-linejoin="round" />
<line x1="36" y1="244.6" x2="71" y2="234.2" stroke="#1c1c1c" stroke-width="1.08" />
<line x1="36" y1="254" x2="69" y2="244.4" stroke="#1c1c1c" stroke-width="1.08" />
<rect x="56.75" y="249.79999999999998" width="12.5" height="3.6" rx="1.8" fill="#fff" stroke="#1c1c1c" stroke-width="0.8" transform="rotate(-17 63 251.6)"/>
<line x1="58.25" y1="252.3" x2="67.75" y2="252.3" stroke="#1c1c1c" stroke-width="0.5" transform="rotate(-17 63 251.6)"/>
<rect x="35.0" y="256.2" width="13" height="3.6" rx="1.8" fill="#fff" stroke="#1c1c1c" stroke-width="0.8" transform="rotate(-17 41.5 258)"/>
<line x1="36.5" y1="258.7" x2="46.5" y2="258.7" stroke="#1c1c1c" stroke-width="0.5" transform="rotate(-17 41.5 258)"/>
<polyline points="69,244.4 69,254" fill="none" stroke="#1c1c1c" stroke-width="0.96" stroke-linejoin="round" />
<line x1="36" y1="266.1" x2="71.3" y2="255.6" stroke="#1c1c1c" stroke-width="2.88" />
<line x1="36" y1="266.1" x2="71.3" y2="255.6" stroke="#fff" stroke-width="2.88" stroke-dasharray="0.45 1.2" opacity="0.28"/>
<line x1="36" y1="268.6" x2="71.5" y2="258" stroke="#1c1c1c" stroke-width="0.84" />
<line x1="36" y1="279.6" x2="72" y2="269.5" stroke="#1c1c1c" stroke-width="1.2" />
<polyline points="72,269.5 77,274 77,292" fill="none" stroke="#1c1c1c" stroke-width="1.2" stroke-linejoin="round" />
<line x1="36" y1="282.6" x2="74" y2="272" stroke="#1c1c1c" stroke-width="0.96" />
<line x1="36" y1="288" x2="77" y2="276.2" stroke="#1c1c1c" stroke-width="0.96" />
<polygon points="73.2,214.4 86,218.6 88,218.6 88,292 77,292 77,274 73.2,270" fill="#fff" stroke="none" stroke-width="0.0" stroke-linejoin="round" />
<line x1="73.2" y1="214.4" x2="73.2" y2="270" stroke="#1c1c1c" stroke-width="1.08" />
<line x1="74.6" y1="215" x2="74.6" y2="271.2" stroke="#1c1c1c" stroke-width="0.96" />
<line x1="74" y1="213.7" x2="90" y2="217.7" stroke="#1c1c1c" stroke-width="3.168" />
<line x1="74" y1="213.7" x2="90" y2="217.7" stroke="#fff" stroke-width="3.168" stroke-dasharray="0.45 1.2" opacity="0.28"/>
<line x1="78" y1="212.6" x2="90" y2="216.8" stroke="#1c1c1c" stroke-width="1.2" />
<polygon points="88,217.6 91,218.6 91,292 88,292" fill="#111" stroke="#1c1c1c" stroke-width="0.36" stroke-linejoin="round" />
<polygon points="92.6,237 96.4,237 96.4,292 92.6,292" fill="#4a4a4a" stroke="none" stroke-width="0.0" stroke-linejoin="round" />
<polygon points="92.6,237 96.4,237 96.4,250 92.6,250" fill="#222" stroke="none" stroke-width="0.0" stroke-linejoin="round" />
<line x1="92.4" y1="226" x2="92.4" y2="292" stroke="#333" stroke-width="0.96" />
<line x1="96.6" y1="236" x2="96.6" y2="292" stroke="#333" stroke-width="0.96" />
<polygon points="97,237 99.4,237 99.4,292 97,292" fill="#ccc" stroke="none" stroke-width="0.0" stroke-linejoin="round" />
<line x1="99.8" y1="236" x2="99.8" y2="292" stroke="#444" stroke-width="0.96" />
<polygon points="97,217.8 101.4,216.4 101.4,234.5 99,235.4 99,229 97,229.6" fill="#fff" stroke="#1c1c1c" stroke-width="0.96" stroke-linejoin="round" />
<polygon points="95.6,224.6 97.4,224 97.4,227 95.6,227.6" fill="#fff" stroke="#1c1c1c" stroke-width="0.96" stroke-linejoin="round" />
<polygon points="101.5,237 145.6,220.6 147,221.2 147,292 101.5,292" fill="#fff" stroke="none" stroke-width="0.0" stroke-linejoin="round" />
<line x1="101.5" y1="237" x2="145.6" y2="220.6" stroke="#1c1c1c" stroke-width="1.2" />
<line x1="118" y1="230.2" x2="143" y2="220.9" stroke="#1c1c1c" stroke-width="3.168" />
<line x1="118" y1="230.2" x2="143" y2="220.9" stroke="#fff" stroke-width="3.168" stroke-dasharray="0.45 1.2" opacity="0.28"/>
<line x1="145.8" y1="220.6" x2="145.8" y2="292" stroke="#1c1c1c" stroke-width="1.08" />
<line x1="147" y1="221.2" x2="147" y2="292" stroke="#1c1c1c" stroke-width="1.2" />
<line x1="101.2" y1="237" x2="101.2" y2="292" stroke="#1c1c1c" stroke-width="1.08" />
<polygon points="103,222.6 103,236.2 120.5,228.8" fill="#111" stroke="#1c1c1c" stroke-width="0.48" stroke-linejoin="round" />
</g>
<rect x="36.4" y="187" width="140.0" height="104" fill="none" stroke="#1c1c1c" stroke-width="1.3"/>
<clipPath id="c6"><rect x="36.4" y="350.4" width="139.6" height="105.20000000000005"/></clipPath><g clip-path="url(#c6)">
<line x1="36" y1="391.1" x2="89.5" y2="373.5" stroke="#1c1c1c" stroke-width="1.92" />
<polyline points="89.5,373.5 91,374 91.8,375.4 92,393.2" fill="none" stroke="#1c1c1c" stroke-width="1.08" stroke-linejoin="round" />
<line x1="36" y1="393.6" x2="90" y2="375.9" stroke="#1c1c1c" stroke-width="0.96" />
<line x1="36" y1="398.1" x2="90.5" y2="380.6" stroke="#1c1c1c" stroke-width="1.08" />
<polygon points="36,398.4 91,380.8 91,385.6 36,403" fill="#4a4a4a" stroke="none" stroke-width="0.0" stroke-linejoin="round" />
<polygon points="36.0,398.79999999999995 41.28,397.11039999999997 40.480000000000004,400.92960000000005 35.2,402.6" fill="#fff" stroke="none" stroke-width="0.0" stroke-linejoin="round" />
<polygon points="47.0,395.28 52.28,393.5904 51.480000000000004,397.44960000000003 46.2,399.12" fill="#fff" stroke="none" stroke-width="0.0" stroke-linejoin="round" />
<polygon points="58.0,391.76 63.28,390.07039999999995 62.480000000000004,393.9696 57.2,395.64000000000004" fill="#fff" stroke="none" stroke-width="0.0" stroke-linejoin="round" />
<polygon points="69.0,388.23999999999995 74.28,386.55039999999997 73.48,390.48960000000005 68.2,392.16" fill="#fff" stroke="none" stroke-width="0.0" stroke-linejoin="round" />
<polygon points="80.0,384.71999999999997 85.28,383.0304 84.48,387.00960000000003 79.2,388.68000000000006" fill="#fff" stroke="none" stroke-width="0.0" stroke-linejoin="round" />
<line x1="36" y1="403.6" x2="91.6" y2="385.8" stroke="#1c1c1c" stroke-width="1.8" />
<line x1="36" y1="411" x2="92" y2="393.4" stroke="#1c1c1c" stroke-width="1.8" />
<line x1="36" y1="413" x2="90" y2="395.8" stroke="#1c1c1c" stroke-width="0.84" />
<line x1="36" y1="414.8" x2="88.8" y2="398.4" stroke="#1c1c1c" stroke-width="0.96" />
<polyline points="92,393.2 94.5,393.2 94.5,456" fill="none" stroke="#1c1c1c" stroke-width="1.08" stroke-linejoin="round" />
<line x1="88.8" y1="397" x2="88.8" y2="456" stroke="#1c1c1c" stroke-width="1.08" />
<polygon points="146,350 177,350 177,352.4 146,352.4" fill="#222" stroke="#1c1c1c" stroke-width="0.36" stroke-linejoin="round" />
<line x1="107" y1="367.6" x2="163" y2="350.6" stroke="#1c1c1c" stroke-width="1.92" />
<line x1="109" y1="369.8" x2="177" y2="351.8" stroke="#1c1c1c" stroke-width="0.96" />
<line x1="109" y1="373" x2="177" y2="355.2" stroke="#1c1c1c" stroke-width="1.08" />
<polygon points="109,373.4 177,355.4 177,357.8 109,377.6" fill="#4a4a4a" stroke="none" stroke-width="0.0" stroke-linejoin="round" />
<polygon points="112.4,372.9 117.16,371.63999999999993 116.36,374.82400000000007 111.60000000000001,376.21000000000004" fill="#fff" stroke="none" stroke-width="0.0" stroke-linejoin="round" />
<polygon points="123.73333333333333,369.9 128.49333333333334,368.63999999999993 127.69333333333334,371.52400000000006 122.93333333333334,372.91" fill="#fff" stroke="none" stroke-width="0.0" stroke-linejoin="round" />
<polygon points="135.06666666666666,366.9 139.82666666666665,365.63999999999993 139.02666666666664,368.22400000000005 134.26666666666665,369.61" fill="#fff" stroke="none" stroke-width="0.0" stroke-linejoin="round" />
<polygon points="146.4,363.9 151.16,362.63999999999993 150.35999999999999,364.92400000000004 145.6,366.31000000000006" fill="#fff" stroke="none" stroke-width="0.0" stroke-linejoin="round" />
<polygon points="157.73333333333335,360.9 162.49333333333334,359.63999999999993 161.69333333333333,361.624 156.93333333333334,363.01000000000005" fill="#fff" stroke="none" stroke-width="0.0" stroke-linejoin="round" />
<polygon points="169.06666666666666,357.9 173.82666666666665,356.63999999999993 173.02666666666664,358.324 168.26666666666665,359.71000000000004" fill="#fff" stroke="none" stroke-width="0.0" stroke-linejoin="round" />
<line x1="109" y1="378" x2="177" y2="358" stroke="#1c1c1c" stroke-width="1.8" />
<line x1="109" y1="386" x2="177" y2="365.5" stroke="#1c1c1c" stroke-width="1.8" />
<line x1="109.5" y1="388" x2="177" y2="366.6" stroke="#1c1c1c" stroke-width="0.84" />
<line x1="110" y1="389.6" x2="177" y2="367.6" stroke="#1c1c1c" stroke-width="0.96" />
<polyline points="107,367.6 107,371.6 104.6,372.6 104.6,378 107,379 107,388" fill="none" stroke="#1c1c1c" stroke-width="1.08" stroke-linejoin="round" />
<line x1="107" y1="388" x2="107" y2="456" stroke="#1c1c1c" stroke-width="1.2" />
<line x1="109.4" y1="370" x2="109.4" y2="456" stroke="#1c1c1c" stroke-width="0.96" />
<line x1="111.4" y1="389" x2="111.4" y2="456" stroke="#1c1c1c" stroke-width="1.08" />
<polyline points="104.6,375 107,374.4" fill="none" stroke="#1c1c1c" stroke-width="0.84" stroke-linejoin="round" />
</g>
<rect x="36.4" y="350.4" width="139.6" height="105.20000000000005" fill="none" stroke="#1c1c1c" stroke-width="1.3"/>
<clipPath id="c7"><rect x="36.4" y="515.4" width="139.6" height="105.20000000000005"/></clipPath><g clip-path="url(#c7)">
<line x1="36" y1="539.1" x2="93" y2="521" stroke="#1c1c1c" stroke-width="1.68" />
<polyline points="93,521 93.6,523 93.8,535" fill="none" stroke="#1c1c1c" stroke-width="1.08" stroke-linejoin="round" />
<line x1="36" y1="541.8" x2="93.4" y2="523.6" stroke="#1c1c1c" stroke-width="0.96" />
<line x1="36" y1="544.6" x2="93.6" y2="526.4" stroke="#1c1c1c" stroke-width="0.96" />
<polygon points="36,544.8 94,526.6 94,529.8 36,548" fill="#4a4a4a" stroke="none" stroke-width="0.0" stroke-linejoin="round" />
<polygon points="37.65714285714286,544.68 41.8,543.38 41.0,545.78 36.85714285714286,547.08" fill="#fff" stroke="none" stroke-width="0.0" stroke-linejoin="round" />
<polygon points="45.94285714285714,542.0799999999999 50.08571428571429,540.78 49.28571428571429,543.1800000000001 45.142857142857146,544.48" fill="#fff" stroke="none" stroke-width="0.0" stroke-linejoin="round" />
<polygon points="54.22857142857143,539.4799999999999 58.37142857142858,538.18 57.571428571428584,540.58 53.42857142857143,541.88" fill="#fff" stroke="none" stroke-width="0.0" stroke-linejoin="round" />
<polygon points="62.51428571428572,536.88 66.65714285714286,535.5799999999999 65.85714285714286,537.98 61.71428571428572,539.28" fill="#fff" stroke="none" stroke-width="0.0" stroke-linejoin="round" />
<polygon points="70.8,534.28 74.94285714285715,532.98 74.14285714285715,535.38 70.0,536.68" fill="#fff" stroke="none" stroke-width="0.0" stroke-linejoin="round" />
<polygon points="79.08571428571429,531.68 83.22857142857143,530.38 82.42857142857143,532.78 78.28571428571429,534.08" fill="#fff" stroke="none" stroke-width="0.0" stroke-linejoin="round" />
<polygon points="87.37142857142857,529.08 91.51428571428572,527.78 90.71428571428572,530.18 86.57142857142857,531.48" fill="#fff" stroke="none" stroke-width="0.0" stroke-linejoin="round" />
<line x1="36" y1="548.2" x2="94" y2="530" stroke="#1c1c1c" stroke-width="1.68" />
<line x1="36" y1="553" x2="94.6" y2="534.6" stroke="#1c1c1c" stroke-width="1.68" />
<line x1="36" y1="555.4" x2="94.6" y2="537" stroke="#1c1c1c" stroke-width="0.96" />
<line x1="95.3" y1="534.6" x2="95.3" y2="621" stroke="#1c1c1c" stroke-width="1.2" />
<polygon points="106,520.5 110.5,516.5 133,515 133,516.4 114,522 108,524" fill="#222" stroke="#1c1c1c" stroke-width="0.48" stroke-linejoin="round" />
<line x1="109" y1="525.2" x2="141" y2="515.6" stroke="#1c1c1c" stroke-width="1.56" />
<polygon points="110,518.2 113,517.4 113,519 110,519.8" fill="#fff" stroke="none" stroke-width="0.0" stroke-linejoin="round" />
<polygon points="116,516.8 119,516.2 119,517.8 116,518.4" fill="#fff" stroke="none" stroke-width="0.0" stroke-linejoin="round" />
<polygon points="103.6,525.6 106,524.6 110.4,526 110.4,531 106,532.6 103.6,531.6" fill="#fff" stroke="#1c1c1c" stroke-width="1.08" stroke-linejoin="round" />
<line x1="106" y1="524.6" x2="106" y2="532.6" stroke="#1c1c1c" stroke-width="0.84" />
<line x1="105.6" y1="532" x2="105.6" y2="598" stroke="#1c1c1c" stroke-width="1.08" />
<polyline points="105.6,598 110,602" fill="none" stroke="#1c1c1c" stroke-width="1.08" stroke-linejoin="round" />
<polygon points="108.6,602 110.6,602 110.6,609 108.6,609" fill="#111" stroke="#1c1c1c" stroke-width="0.36" stroke-linejoin="round" />
<polygon points="112,527.6 155,515 177,515 177,596.2 112.6,618" fill="#fff" stroke="none" stroke-width="0.0" stroke-linejoin="round" />
<line x1="112" y1="527.6" x2="155" y2="515.2" stroke="#1c1c1c" stroke-width="2.04" />
<line x1="112" y1="527.6" x2="155" y2="515.2" stroke="#fff" stroke-width="2.04" stroke-dasharray="0.45 1.2" opacity="0.28"/>
<line x1="113" y1="530.2" x2="162" y2="515.4" stroke="#1c1c1c" stroke-width="0.96" />
<polygon points="110.6,527 114.6,528.4 114.6,617.4 112.6,618 110.6,617" fill="#9a9a9a" stroke="#1c1c1c" stroke-width="0.72" stroke-linejoin="round" />
<line x1="110.6" y1="527" x2="110.6" y2="617" stroke="#1c1c1c" stroke-width="1.2" />
<line x1="112.6" y1="528" x2="112.6" y2="618" stroke="#1c1c1c" stroke-width="1.08" />
<line x1="114.6" y1="528.4" x2="114.6" y2="617.4" stroke="#1c1c1c" stroke-width="1.2" />
<line x1="112.6" y1="618" x2="177" y2="596.2" stroke="#1c1c1c" stroke-width="1.68" />
</g>
<rect x="36.4" y="515.4" width="139.6" height="105.20000000000005" fill="none" stroke="#1c1c1c" stroke-width="1.3"/>
<line x1="346.2" y1="295" x2="346.2" y2="499" stroke="#1c1c1c" stroke-width="1.08" />
<polygon points="210,261.6 311.6,296.6 311.6,499 318,502 318,535 210,498" fill="#fff" stroke="none" stroke-width="0.0" stroke-linejoin="round" />
<line x1="210" y1="261.6" x2="210" y2="498" stroke="#6a6a6a" stroke-width="1.68" />
<line x1="210" y1="261.8" x2="311.6" y2="296.6" stroke="#1c1c1c" stroke-width="1.68" />
<line x1="210" y1="264" x2="311.6" y2="298.8" stroke="#1c1c1c" stroke-width="0.96" />
<line x1="311.6" y1="296.6" x2="311.6" y2="499.2" stroke="#2a2a2a" stroke-width="1.38" />
<line x1="210" y1="380" x2="311.6" y2="414" stroke="#1c1c1c" stroke-width="1.68" />
<line x1="210" y1="382.4" x2="311.6" y2="416.4" stroke="#1c1c1c" stroke-width="0.84" />
<line x1="210" y1="498" x2="318" y2="535" stroke="#1c1c1c" stroke-width="1.44" />
<line x1="317" y1="502" x2="317" y2="535" stroke="#1c1c1c" stroke-width="1.08" />
<line x1="319.4" y1="503" x2="319.4" y2="535.4" stroke="#1c1c1c" stroke-width="1.08" />
<line x1="317" y1="535" x2="319.4" y2="535.4" stroke="#1c1c1c" stroke-width="1.08" />
<polyline points="311.6,499 328,505" fill="none" stroke="#1c1c1c" stroke-width="1.08" stroke-linejoin="round" />
<line x1="212.6" y1="244" x2="212.6" y2="261.6" stroke="#1c1c1c" stroke-width="1.2" />
<line x1="212.6" y1="245.2" x2="318" y2="280.4" stroke="#1c1c1c" stroke-width="1.92" />
<line x1="212.6" y1="245.2" x2="318" y2="280.4" stroke="#fff" stroke-width="1.92" stroke-dasharray="0.45 1.2" opacity="0.28"/>
<line x1="212.6" y1="249.3" x2="320" y2="285.2" stroke="#1c1c1c" stroke-width="0.84" />
<polygon points="212.6,250.8 322,287 322,291 212.6,255.2" fill="#3c3c3c" stroke="none" stroke-width="0.0" stroke-linejoin="round" />
<polygon points="216.8076923076923,252.6923076923077 221.1836923076923,254.14030769230772 221.1836923076923,257.50892307692305 216.8076923076923,256.0769230769231" fill="#fff" stroke="none" stroke-width="0.0" stroke-linejoin="round" />
<polygon points="225.22307692307692,255.4769230769231 229.59907692307692,256.9249230769231 229.59907692307692,260.2627692307692 225.22307692307692,258.8307692307692" fill="#fff" stroke="none" stroke-width="0.0" stroke-linejoin="round" />
<polygon points="233.63846153846154,258.26153846153846 238.01446153846155,259.7095384615385 238.01446153846155,263.01661538461536 233.63846153846154,261.5846153846154" fill="#fff" stroke="none" stroke-width="0.0" stroke-linejoin="round" />
<polygon points="242.05384615384614,261.04615384615386 246.42984615384614,262.49415384615384 246.42984615384614,265.7704615384615 242.05384615384614,264.3384615384615" fill="#fff" stroke="none" stroke-width="0.0" stroke-linejoin="round" />
<polygon points="250.46923076923076,263.83076923076925 254.84523076923077,265.2787692307692 254.84523076923077,268.5243076923077 250.46923076923076,267.0923076923077" fill="#fff" stroke="none" stroke-width="0.0" stroke-linejoin="round" />
<polygon points="258.88461538461536,266.61538461538464 263.2606153846154,268.0633846153846 263.2606153846154,271.2781538461538 258.88461538461536,269.8461538461538" fill="#fff" stroke="none" stroke-width="0.0" stroke-linejoin="round" />
<polygon points="267.3,269.4 271.676,270.848 271.676,274.032 267.3,272.6" fill="#fff" stroke="none" stroke-width="0.0" stroke-linejoin="round" />
<polygon points="275.7153846153846,272.18461538461537 280.09138461538464,273.6326153846154 280.09138461538464,276.78584615384614 275.7153846153846,275.3538461538461" fill="#fff" stroke="none" stroke-width="0.0" stroke-linejoin="round" />
<polygon points="284.13076923076926,274.96923076923076 288.50676923076924,276.4172307692308 288.50676923076924,279.5396923076923 284.13076923076926,278.10769230769233" fill="#fff" stroke="none" stroke-width="0.0" stroke-linejoin="round" />
<polygon points="292.54615384615386,277.75384615384615 296.92215384615383,279.20184615384613 296.92215384615383,282.29353846153845 292.54615384615386,280.86153846153843" fill="#fff" stroke="none" stroke-width="0.0" stroke-linejoin="round" />
<polygon points="300.96153846153845,280.53846153846155 305.3375384615385,281.9864615384615 305.3375384615385,285.0473846153846 300.96153846153845,283.61538461538464" fill="#fff" stroke="none" stroke-width="0.0" stroke-linejoin="round" />
<polygon points="309.37692307692305,283.32307692307694 313.7529230769231,284.7710769230769 313.7529230769231,287.80123076923076 309.37692307692305,286.36923076923074" fill="#fff" stroke="none" stroke-width="0.0" stroke-linejoin="round" />
<polygon points="317.7923076923077,286.10769230769233 322.0,287.5 322.0,290.5 317.7923076923077,289.12307692307695" fill="#fff" stroke="none" stroke-width="0.0" stroke-linejoin="round" />
<line x1="212.6" y1="255.6" x2="323" y2="291.4" stroke="#1c1c1c" stroke-width="2.16" />
<line x1="212.6" y1="258" x2="318" y2="293.2" stroke="#1c1c1c" stroke-width="0.84" />
<polyline points="311.6,296.6 321,299.4 327.6,301.2" fill="none" stroke="#1c1c1c" stroke-width="1.08" stroke-linejoin="round" />
<line x1="327.7" y1="301" x2="327.7" y2="505" stroke="#1c1c1c" stroke-width="1.2" />
<line x1="330.4" y1="301" x2="330.4" y2="505" stroke="#333" stroke-width="1.14" />
<polygon points="328.2,505.4 346.2,499 346.2,517 328.2,523.2" fill="#fff" stroke="#1c1c1c" stroke-width="1.08" stroke-linejoin="round" />
<line x1="323" y1="521.6" x2="328.2" y2="523.2" stroke="#1c1c1c" stroke-width="1.08" />
<line x1="328" y1="505" x2="328" y2="523" stroke="#1c1c1c" stroke-width="1.32" />
<polygon points="319.4,513.6 323.6,515 323.6,522.4 319.4,521" fill="#fff" stroke="#1c1c1c" stroke-width="1.2" stroke-linejoin="round" />
<polyline points="320.6,520.6 320.6,517.2 322.4,517.8" fill="none" stroke="#1c1c1c" stroke-width="0.96" stroke-linejoin="round" />
<polygon points="317.6,274.6 336,268 347,272 347,295.2 328,301.2 320.6,298.4 320.6,279.6 317.6,278.6" fill="#fff" stroke="#1c1c1c" stroke-width="1.08" stroke-linejoin="round" />
<polyline points="317.6,274.6 328,279.6 347,272" fill="none" stroke="#1c1c1c" stroke-width="1.08" stroke-linejoin="round" />
<line x1="320.6" y1="279.4" x2="320.6" y2="298.4" stroke="#1c1c1c" stroke-width="1.08" />
<polygon points="327,279.4 329.6,279.4 329.6,301 327,301" fill="#111" stroke="#1c1c1c" stroke-width="0.36" stroke-linejoin="round" />
<polyline points="331,300 331,281.6 339.6,278.6 339.6,297.4" fill="none" stroke="#1c1c1c" stroke-width="0.96" stroke-linejoin="round" />
<polyline points="318,279.6 320.6,281 320.6,284" fill="none" stroke="#1c1c1c" stroke-width="0.96" stroke-linejoin="round" />
<polygon points="321,284 323.6,285 323.6,291.4 321,290.4" fill="#fff" stroke="#1c1c1c" stroke-width="0.96" stroke-linejoin="round" />
<defs><pattern id="mesh" x="442.8" y="209.5" width="3" height="5.6" patternUnits="userSpaceOnUse" patternTransform="skewY(-18.4)"><rect width="3" height="5.6" fill="#2c2c2c"/><circle cx="0.75" cy="1.4" r="0.8" fill="#a8a8a8"/><circle cx="2.25" cy="4.2" r="0.8" fill="#a8a8a8"/></pattern><pattern id="mesh2" x="371" y="482" width="3" height="5.6" patternUnits="userSpaceOnUse" patternTransform="skewY(-18.4)"><rect width="3" height="5.6" fill="#1c1c1c"/><circle cx="0.75" cy="1.4" r="0.7" fill="#8a8a8a"/><circle cx="2.25" cy="4.2" r="0.7" fill="#8a8a8a"/></pattern></defs>
<polygon points="638.6,165 657,158.4 667.6,162.4 667.6,217 649.6,217 638.6,217" fill="#fff" stroke="none" stroke-width="0.0" stroke-linejoin="round" />
<polyline points="638.6,177 638.6,165 657,158.4 667.6,162.4 667.6,217" fill="none" stroke="#1c1c1c" stroke-width="1.08" stroke-linejoin="round" />
<polyline points="638.6,165 649.6,169 667.6,162.4" fill="none" stroke="#1c1c1c" stroke-width="1.08" stroke-linejoin="round" />
<line x1="649.6" y1="169" x2="649.6" y2="173" stroke="#1c1c1c" stroke-width="1.08" />
<polygon points="425.2,238 442.6,232.4 453,236 453,470 425.2,470" fill="#fff" stroke="none" stroke-width="0.0" stroke-linejoin="round" />
<line x1="425.2" y1="238" x2="425.2" y2="470" stroke="#1c1c1c" stroke-width="1.2" />
<polyline points="425.2,238 436,241.6 443,239.4" fill="none" stroke="#1c1c1c" stroke-width="1.08" stroke-linejoin="round" />
<line x1="425.2" y1="238" x2="442.8" y2="232.4" stroke="#1c1c1c" stroke-width="1.08" />
<line x1="436" y1="241.6" x2="436" y2="288" stroke="#666" stroke-width="1.08" />
<polygon points="371,482 425.5,464.4 425.5,477.6 414.6,481.6 414.6,494.6 382,506 371,500.6" fill="url(#mesh2)" stroke="#111" stroke-width="0.96" stroke-linejoin="round" />
<polygon points="371,494.6 414.6,487.6 414.6,494.6 382,506 371,500.6" fill="#0e0e0e" stroke="#0e0e0e" stroke-width="0.6" stroke-linejoin="round" />
<polygon points="415,482 457,468 457,481 417,495 415,494" fill="#fff" stroke="#1c1c1c" stroke-width="1.08" stroke-linejoin="round" />
<line x1="417" y1="485" x2="457" y2="471.6" stroke="#1c1c1c" stroke-width="1.08" />
<line x1="418" y1="490.4" x2="453" y2="478.4" stroke="#1c1c1c" stroke-width="1.32" />
<line x1="416.4" y1="483.4" x2="416.4" y2="495" stroke="#1c1c1c" stroke-width="0.96" />
<polygon points="434,286.6 453,280.2 453,470 434,467" fill="#fff" stroke="none" stroke-width="0.0" stroke-linejoin="round" />
<line x1="434" y1="286.6" x2="453" y2="280.2" stroke="#1c1c1c" stroke-width="1.2" />
<line x1="434.2" y1="286.6" x2="434.2" y2="467" stroke="#1c1c1c" stroke-width="0.9" />
<line x1="436.1" y1="287" x2="436.1" y2="467.6" stroke="#1c1c1c" stroke-width="0.78" />
<line x1="444.2" y1="284" x2="444.2" y2="466" stroke="#1c1c1c" stroke-width="0.96" />
<line x1="445.6" y1="284" x2="445.6" y2="470" stroke="#444" stroke-width="0.72" />
<polyline points="434.2,467 436.1,468.4 444.2,465.6" fill="none" stroke="#1c1c1c" stroke-width="0.96" stroke-linejoin="round" />
<polygon points="450.4,282.6 453.6,281.6 453.6,471 450.4,471" fill="#111" stroke="#1c1c1c" stroke-width="0.36" stroke-linejoin="round" />
<polygon points="449,283 450.6,282.6 450.6,290 449,290" fill="#111" stroke="#1c1c1c" stroke-width="0.36" stroke-linejoin="round" />
<line x1="453" y1="247.6" x2="453" y2="281" stroke="#1c1c1c" stroke-width="0.84" />
<line x1="455.4" y1="250" x2="455.4" y2="470" stroke="#333" stroke-width="0.72" />
<line x1="457.4" y1="252" x2="457.4" y2="470" stroke="#555" stroke-width="0.72" />
<polygon points="458.6,258 475,253 544,230 547,236 547,344.5 560,340 562.4,222 662.4,188 663.4,424 458.2,494" fill="#fff" stroke="none" stroke-width="0.0" stroke-linejoin="round" />
<line x1="458.6" y1="256" x2="458.6" y2="494" stroke="#1c1c1c" stroke-width="1.2" />
<line x1="460" y1="258" x2="460" y2="374" stroke="#1c1c1c" stroke-width="0.96" />
<line x1="458.6" y1="374" x2="476.6" y2="369.6" stroke="#1c1c1c" stroke-width="1.56" />
<line x1="458.6" y1="376.2" x2="476.6" y2="371.8" stroke="#1c1c1c" stroke-width="0.84" />
<line x1="500" y1="361.6" x2="662.6" y2="306" stroke="#1c1c1c" stroke-width="1.56" />
<line x1="500" y1="363.8" x2="662.6" y2="308.2" stroke="#1c1c1c" stroke-width="0.84" />
<line x1="458.2" y1="494" x2="663.4" y2="424" stroke="#1c1c1c" stroke-width="1.44" />
<polygon points="455.4,356 458.4,355.2 458.4,372 455.4,372.8" fill="#fff" stroke="#1c1c1c" stroke-width="0.96" stroke-linejoin="round" />
<line x1="456.8" y1="360" x2="456.8" y2="366" stroke="#1c1c1c" stroke-width="0.84" />
<polygon points="442.8,209.5 515,185.5 515,208.8 442.8,231.4" fill="url(#mesh)" stroke="#111" stroke-width="1.08" stroke-linejoin="round" />
<line x1="442.8" y1="209.5" x2="515" y2="185.5" stroke="#111" stroke-width="1.56" />
<polygon points="442.8,231.4 515,208.8 521.5,211.6 521.5,214 444.7,236" fill="#fff" stroke="none" stroke-width="0.0" stroke-linejoin="round" />
<line x1="442.8" y1="231.4" x2="515" y2="208.8" stroke="#1c1c1c" stroke-width="0.96" />
<line x1="444.4" y1="234.3" x2="515.3" y2="211.7" stroke="#1c1c1c" stroke-width="0.96" />
<polyline points="515,209.8 521.5,211.8 522,216.8" fill="none" stroke="#1c1c1c" stroke-width="0.96" stroke-linejoin="round" />
<polygon points="444.7,236.2 464.7,231.2 488,224.2 521.4,212.8 522,216.8 480,231.3 449.3,241.4" fill="#111" stroke="#1c1c1c" stroke-width="0.48" stroke-linejoin="round" />
<polyline points="443,232.6 443,250.6 453,247.6" fill="none" stroke="#1c1c1c" stroke-width="1.2" stroke-linejoin="round" />
<polygon points="453,241 545,209 546.4,211 546,219 475,246 458,252" fill="#fff" stroke="none" stroke-width="0.0" stroke-linejoin="round" />
<line x1="452" y1="243.6" x2="545" y2="209.2" stroke="#1c1c1c" stroke-width="2.88" />
<line x1="452" y1="243.6" x2="545" y2="209.2" stroke="#fff" stroke-width="2.88" stroke-dasharray="0.45 1.2" opacity="0.28"/>
<polyline points="545,209 546.4,210.6 545.6,218.6" fill="none" stroke="#1c1c1c" stroke-width="1.08" stroke-linejoin="round" />
<line x1="457" y1="243.7" x2="545.6" y2="214" stroke="#1c1c1c" stroke-width="1.08" />
<line x1="458" y1="246.6" x2="474" y2="241" stroke="#1c1c1c" stroke-width="0.96" />
<polygon points="458,247 470,243 475,246 475,249 460,254" fill="#fff" stroke="#1c1c1c" stroke-width="0.96" stroke-linejoin="round" />
<polygon points="461,247.6 467,245.6 467,248.4 461,250.4" fill="#555" stroke="#1c1c1c" stroke-width="0.6" stroke-linejoin="round" />
<polygon points="468,243 475.3,245.4 475.3,248.6 468,246.2" fill="#111" stroke="#1c1c1c" stroke-width="0.36" stroke-linejoin="round" />
<line x1="458.6" y1="256.4" x2="475" y2="251.2" stroke="#1c1c1c" stroke-width="1.08" />
<line x1="460" y1="259.4" x2="475" y2="254.6" stroke="#1c1c1c" stroke-width="1.08" />
<line x1="460" y1="261" x2="475" y2="256.4" stroke="#1c1c1c" stroke-width="0.84" />
<polyline points="455,250 457.2,252.4 458.6,258" fill="none" stroke="#1c1c1c" stroke-width="0.96" stroke-linejoin="round" />
<polygon points="475,246.2 547,219.6 548.4,220.4 548.4,236.4 475,260.2" fill="#fff" stroke="#1c1c1c" stroke-width="1.2" stroke-linejoin="round" />
<line x1="475" y1="245.8" x2="547" y2="220" stroke="#1c1c1c" stroke-width="2.88" />
<line x1="475" y1="245.8" x2="547" y2="220" stroke="#fff" stroke-width="2.88" stroke-dasharray="0.45 1.2" opacity="0.28"/>
<line x1="547" y1="219.8" x2="547" y2="236.8" stroke="#1c1c1c" stroke-width="1.08" />
<line x1="544.2" y1="238" x2="544.2" y2="345.4" stroke="#555" stroke-width="0.96" />
<line x1="548.2" y1="236.8" x2="548.2" y2="344" stroke="#1c1c1c" stroke-width="1.08" />
<line x1="560.3" y1="204" x2="560.3" y2="340.6" stroke="#1c1c1c" stroke-width="1.2" />
<line x1="563.2" y1="222" x2="563.2" y2="339.6" stroke="#555" stroke-width="0.96" />
<polygon points="560,204 661,170 661,183 662.4,188 562,222 560,222" fill="#fff" stroke="none" stroke-width="0.0" stroke-linejoin="round" />
<line x1="560.3" y1="204.1" x2="661" y2="170.2" stroke="#1c1c1c" stroke-width="1.68" />
<line x1="560.3" y1="204.1" x2="661" y2="170.2" stroke="#fff" stroke-width="1.68" stroke-dasharray="0.45 1.2" opacity="0.28"/>
<line x1="561" y1="207.2" x2="661" y2="173.5" stroke="#1c1c1c" stroke-width="0.72" />
<polygon points="561,208.2 661,174.5 661,178.5 561,212.2" fill="#3c3c3c" stroke="none" stroke-width="0.0" stroke-linejoin="round" />
<polygon points="563.5,207.8575 567.6666666666666,206.45333333333332 567.6666666666666,209.45333333333332 563.5,210.8575" fill="#fff" stroke="none" stroke-width="0.0" stroke-linejoin="round" />
<polygon points="571.8333333333334,205.04916666666665 576.0,203.64499999999998 576.0,206.64499999999998 571.8333333333334,208.04916666666665" fill="#fff" stroke="none" stroke-width="0.0" stroke-linejoin="round" />
<polygon points="580.1666666666666,202.2408333333333 584.3333333333334,200.83666666666664 584.3333333333334,203.83666666666664 580.1666666666666,205.2408333333333" fill="#fff" stroke="none" stroke-width="0.0" stroke-linejoin="round" />
<polygon points="588.5,199.4325 592.6666666666666,198.02833333333334 592.6666666666666,201.02833333333334 588.5,202.4325" fill="#fff" stroke="none" stroke-width="0.0" stroke-linejoin="round" />
<polygon points="596.8333333333334,196.62416666666667 601.0,195.22 601.0,198.22 596.8333333333334,199.62416666666667" fill="#fff" stroke="none" stroke-width="0.0" stroke-linejoin="round" />
<polygon points="605.1666666666666,193.81583333333333 609.3333333333334,192.41166666666666 609.3333333333334,195.41166666666666 605.1666666666666,196.81583333333333" fill="#fff" stroke="none" stroke-width="0.0" stroke-linejoin="round" />
<polygon points="613.5,191.0075 617.6666666666666,189.60333333333332 617.6666666666666,192.60333333333332 613.5,194.0075" fill="#fff" stroke="none" stroke-width="0.0" stroke-linejoin="round" />
<polygon points="621.8333333333334,188.19916666666666 626.0,186.795 626.0,189.795 621.8333333333334,191.19916666666666" fill="#fff" stroke="none" stroke-width="0.0" stroke-linejoin="round" />
<polygon points="630.1666666666666,185.39083333333332 634.3333333333334,183.98666666666665 634.3333333333334,186.98666666666665 630.1666666666666,188.39083333333332" fill="#fff" stroke="none" stroke-width="0.0" stroke-linejoin="round" />
<polygon points="638.5,182.58249999999998 642.6666666666666,181.17833333333334 642.6666666666666,184.17833333333334 638.5,185.58249999999998" fill="#fff" stroke="none" stroke-width="0.0" stroke-linejoin="round" />
<polygon points="646.8333333333334,179.77416666666667 651.0,178.37 651.0,181.37 646.8333333333334,182.77416666666667" fill="#fff" stroke="none" stroke-width="0.0" stroke-linejoin="round" />
<polygon points="655.1666666666666,176.96583333333334 659.3333333333334,175.56166666666667 659.3333333333334,178.56166666666667 655.1666666666666,179.96583333333334" fill="#fff" stroke="none" stroke-width="0.0" stroke-linejoin="round" />
<line x1="561" y1="212.5" x2="661.6" y2="178.8" stroke="#1c1c1c" stroke-width="1.92" />
<line x1="561" y1="214.8" x2="661.6" y2="181" stroke="#555" stroke-width="0.72" />
<line x1="561" y1="221.6" x2="662.4" y2="187.8" stroke="#1c1c1c" stroke-width="1.68" />
<line x1="563.2" y1="223.7" x2="662.4" y2="190.2" stroke="#1c1c1c" stroke-width="0.84" />
<polyline points="560.3,206 557.6,207 557.6,213.4 560.3,212.6" fill="none" stroke="#1c1c1c" stroke-width="1.08" stroke-linejoin="round" />
<line x1="557.6" y1="210" x2="560.3" y2="209.2" stroke="#1c1c1c" stroke-width="0.84" />
<line x1="661" y1="170.2" x2="661" y2="183" stroke="#1c1c1c" stroke-width="1.08" />
<polygon points="549,325 560,321.4 560,339.6 549,343.2" fill="#fff" stroke="none" stroke-width="0.0" stroke-linejoin="round" />
<line x1="548.6" y1="326.6" x2="560" y2="322.8" stroke="#1c1c1c" stroke-width="1.2" />
<line x1="548.6" y1="329.6" x2="560" y2="325.8" stroke="#1c1c1c" stroke-width="0.84" />
<polygon points="549,332.2 555,330.2 555,334.8 549,336.8" fill="#777" stroke="none" stroke-width="0.0" stroke-linejoin="round" />
<line x1="548.6" y1="332.2" x2="560" y2="328.4" stroke="#1c1c1c" stroke-width="0.96" />
<line x1="548.6" y1="338" x2="560" y2="334.2" stroke="#1c1c1c" stroke-width="1.32" />
<polyline points="556.6,323.8 557.4,320 559,318.4 560.3,318.4" fill="none" stroke="#1c1c1c" stroke-width="0.96" stroke-linejoin="round" />
<line x1="663" y1="188" x2="663" y2="424" stroke="#1c1c1c" stroke-width="1.2" />
<polygon points="664.5,217 668.3,217 668.3,384 664.5,384" fill="#111" stroke="#1c1c1c" stroke-width="0.36" stroke-linejoin="round" />
<line x1="667.8" y1="162.6" x2="667.8" y2="217" stroke="#1c1c1c" stroke-width="1.08" />
<polygon points="663.6,384 668,384 668,406.6 663.6,408" fill="#fff" stroke="#1c1c1c" stroke-width="0.96" stroke-linejoin="round" />
<polygon points="476.4,301.6 499.2,293.8 499.2,476.2 476.6,483.4" fill="#fff" stroke="#1c1c1c" stroke-width="1.2" stroke-linejoin="round" />
<polygon points="476.3,301.7 479,300.8 479,482.6 476.5,483.4" fill="#2a2a2a" stroke="#1c1c1c" stroke-width="0.36" stroke-linejoin="round" />
<polygon points="480.3,295.3 480.3,300.2 488.6,297.4 484.3,295.3" fill="#111" stroke="#1c1c1c" stroke-width="0.6" stroke-linejoin="round" />
<line x1="476.4" y1="301.6" x2="499.2" y2="293.8" stroke="#1c1c1c" stroke-width="1.56" />
<line x1="499.4" y1="293.8" x2="499.4" y2="476" stroke="#1c1c1c" stroke-width="1.2" />
<polygon points="680.4,229.7 694.6,225.7 694.6,392.4 681,396.4 680.4,396" fill="#fff" stroke="#1c1c1c" stroke-width="1.08" stroke-linejoin="round" />
<line x1="680.6" y1="229.7" x2="680.6" y2="396" stroke="#333" stroke-width="1.2" />
<line x1="682.6" y1="229" x2="682.6" y2="396" stroke="#444" stroke-width="1.08" />
<polygon points="684.3,222 694.7,225.7 683,229.3" fill="#111" stroke="#1c1c1c" stroke-width="0.6" stroke-linejoin="round" />
<line x1="694.2" y1="225.7" x2="694.2" y2="392.4" stroke="#333" stroke-width="1.32" />
<text x="36.6" y="137" textLength="51.7" lengthAdjust="spacingAndGlyphs" style="font-size:10.3px;fill:#1d1d1b;stroke:#1d1d1b;stroke-width:0.45px;">Außenecke</text>
<text x="36.0" y="151.4" textLength="63.9" lengthAdjust="spacingAndGlyphs" style="font-size:10.3px;fill:#1d1d1b;font-weight:bold;font-style:italic;">Corner profile</text>
<text x="36.0" y="165.6" textLength="64.5" lengthAdjust="spacingAndGlyphs" style="font-size:10.3px;fill:#777;stroke:#777;stroke-width:0.25px;">Angle sortant</text>
<text x="210.6" y="137" textLength="151.5" lengthAdjust="spacingAndGlyphs" style="font-size:10.3px;fill:#1d1d1b;stroke:#1d1d1b;stroke-width:0.45px;">Lüftungsprofil und Starterleiste</text>
<text x="210.5" y="151.4" textLength="137.1" lengthAdjust="spacingAndGlyphs" style="font-size:10.3px;fill:#1d1d1b;font-weight:bold;font-style:italic;">Vent profile and starter profile</text>
<text x="210.6" y="165.6" textLength="110.5" lengthAdjust="spacingAndGlyphs" style="font-size:10.3px;fill:#777;stroke:#777;stroke-width:0.25px;">Profilé de ventilation et</text>
<text x="210.6" y="178" textLength="80.1" lengthAdjust="spacingAndGlyphs" style="font-size:10.3px;fill:#777;stroke:#777;stroke-width:0.25px;">Profilé de départ</text>
<text x="384.4" y="137" textLength="73.6" lengthAdjust="spacingAndGlyphs" style="font-size:10.3px;fill:#1d1d1b;stroke:#1d1d1b;stroke-width:0.45px;">Abschlussprofil</text>
<text x="383.8" y="151.4" textLength="69.5" lengthAdjust="spacingAndGlyphs" style="font-size:10.3px;fill:#1d1d1b;font-weight:bold;font-style:italic;">Top vent profile</text>
<text x="383.3" y="165.6" textLength="82.8" lengthAdjust="spacingAndGlyphs" style="font-size:10.3px;fill:#777;stroke:#777;stroke-width:0.25px;">Profilé de finition</text>
<text x="558.6" y="137" textLength="37.7" lengthAdjust="spacingAndGlyphs" style="font-size:10.3px;fill:#1d1d1b;stroke:#1d1d1b;stroke-width:0.45px;">U-Profil</text>
<text x="558.6" y="151.4" textLength="42.7" lengthAdjust="spacingAndGlyphs" style="font-size:10.3px;fill:#1d1d1b;font-weight:bold;font-style:italic;">Universal</text>
<text x="604.0" y="151.4" textLength="19.7" lengthAdjust="spacingAndGlyphs" style="font-size:10.3px;fill:#1d1d1b;font-weight:bold;">trim</text>
<text x="558.6" y="165.6" textLength="35.7" lengthAdjust="spacingAndGlyphs" style="font-size:10.3px;fill:#777;stroke:#777;stroke-width:0.25px;">Épingle</text>
<text x="35.5" y="304" textLength="39.4" lengthAdjust="spacingAndGlyphs" style="font-size:10.3px;fill:#1d1d1b;stroke:#1d1d1b;stroke-width:0.45px;">H-Profil</text>
<text x="36.0" y="318" textLength="41.7" lengthAdjust="spacingAndGlyphs" style="font-size:10.3px;fill:#1d1d1b;font-weight:bold;font-style:italic;">H-Profile</text>
<text x="36.0" y="332.6" textLength="50.9" lengthAdjust="spacingAndGlyphs" style="font-size:10.3px;fill:#777;stroke:#777;stroke-width:0.25px;">Jonction H</text>
<text x="36.4" y="467.6" textLength="45.8" lengthAdjust="spacingAndGlyphs" style="font-size:10.3px;fill:#1d1d1b;stroke:#1d1d1b;stroke-width:0.45px;">Verbinder</text>
<text x="35.8" y="482" textLength="21.8" lengthAdjust="spacingAndGlyphs" style="font-size:10.3px;fill:#1d1d1b;font-weight:bold;font-style:italic;">Joint</text>
<text x="36.0" y="496.6" textLength="40.7" lengthAdjust="spacingAndGlyphs" style="font-size:10.3px;fill:#777;stroke:#777;stroke-width:0.25px;">Jonction</text>
<text x="36.4" y="635" textLength="100.4" lengthAdjust="spacingAndGlyphs" style="font-size:10.3px;fill:#1d1d1b;stroke:#1d1d1b;stroke-width:0.45px;">Verdeckter Verbinder</text>
<text x="35.8" y="648.6" textLength="56.8" lengthAdjust="spacingAndGlyphs" style="font-size:10.3px;fill:#1d1d1b;font-weight:bold;font-style:italic;">Hidden Joint</text>
<text x="36.0" y="664" textLength="76.7" lengthAdjust="spacingAndGlyphs" style="font-size:10.3px;fill:#777;stroke:#777;stroke-width:0.25px;">Jonction arrière</text>
</svg>
</body></html>
